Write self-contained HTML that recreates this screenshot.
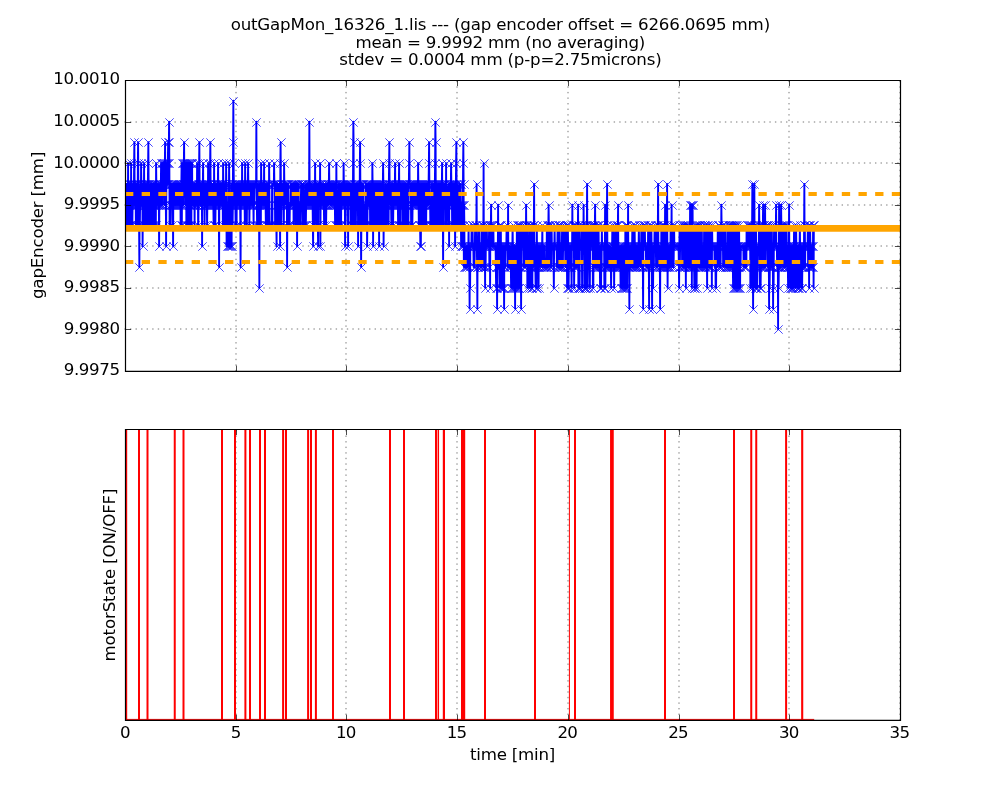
<!DOCTYPE html><html><head><meta charset="utf-8"><title>outGapMon_16326_1</title>
<style>html,body{margin:0;padding:0;background:#fff}svg{display:block}text{font-family:'DejaVu Sans','Liberation Sans',sans-serif;font-size:16.67px;fill:#000}</style></head><body>
<svg width="1000" height="800" viewBox="0 0 1000 800">
<defs><clipPath id="c1"><rect x="125" y="80" width="775.5" height="291.5"/></clipPath><clipPath id="c2"><rect x="125" y="429" width="775.5" height="291.5"/></clipPath></defs>
<rect width="1000" height="800" fill="#fff"/>
<text x="500.4" y="29.5" text-anchor="middle" textLength="539.5">outGapMon_16326_1.lis --- (gap encoder offset = 6266.0695 mm)</text>
<text x="500.4" y="47.7" text-anchor="middle" textLength="289.8">mean = 9.9992 mm (no averaging)</text>
<text x="500.4" y="65.0" text-anchor="middle" textLength="322.5">stdev = 0.0004 mm (p-p=2.75microns)</text>
<path d="M236.00 371.3V80.0M346.00 371.3V80.0M457.00 371.3V80.0M568.00 371.3V80.0M679.00 371.3V80.0M789.00 371.3V80.0M900.00 371.3V80.0M124.4 122.00H900M124.4 163.00H900M124.4 205.00H900M124.4 246.00H900M124.4 288.00H900M124.4 329.00H900" stroke="#000" stroke-opacity="0.78" stroke-width="0.69" stroke-dasharray="1.39 4.17" fill="none"/>
<path d="M236.00 720.5V429.1M346.00 720.5V429.1M457.00 720.5V429.1M568.00 720.5V429.1M679.00 720.5V429.1M789.00 720.5V429.1M900.00 720.5V429.1" stroke="#000" stroke-opacity="0.78" stroke-width="0.69" stroke-dasharray="1.39 4.17" fill="none"/>
<g clip-path="url(#c1)">
<polyline points="125.60,204.7 125.85,183.9 126.10,204.7 126.35,225.4 126.60,183.9 126.85,204.7 127.10,225.4 127.35,204.7 127.60,204.7 127.85,204.7 128.10,163.1 128.35,225.4 128.60,225.4 128.85,183.9 129.10,204.7 129.35,204.7 129.60,183.9 129.85,225.4 130.10,183.9 130.35,204.7 130.60,183.9 130.85,225.4 131.10,163.1 131.35,204.7 131.60,183.9 131.85,204.7 132.10,204.7 132.35,225.4 132.60,204.7 132.85,204.7 133.10,204.7 133.35,183.9 133.60,204.7 133.85,204.7 134.10,163.1 134.35,142.3 134.60,183.9 134.85,204.7 135.10,204.7 135.35,183.9 135.60,183.9 135.85,225.4 136.10,204.7 136.35,225.4 136.60,183.9 136.85,204.7 137.10,183.9 137.35,183.9 137.60,225.4 137.85,163.1 138.10,142.3 138.35,183.9 138.60,183.9 138.85,225.4 139.10,225.4 139.35,267.0 139.60,204.7 139.85,225.4 140.10,204.7 140.35,204.7 140.60,183.9 140.85,204.7 141.10,163.1 141.35,183.9 141.60,204.7 141.85,204.7 142.10,183.9 142.35,183.9 142.60,246.2 142.85,204.7 143.10,204.7 143.35,183.9 143.60,183.9 143.85,204.7 144.10,163.1 144.35,225.4 144.60,204.7 144.85,183.9 145.10,204.7 145.35,225.4 145.60,204.7 145.85,183.9 146.10,204.7 146.35,225.4 146.60,204.7 146.85,225.4 147.10,183.9 147.35,225.4 147.60,225.4 147.85,183.9 148.10,163.1 148.35,142.3 148.60,183.9 148.85,183.9 149.10,183.9 149.35,225.4 149.60,204.7 149.85,204.7 150.10,225.4 150.35,204.7 150.60,204.7 150.85,183.9 151.10,183.9 151.35,204.7 151.60,183.9 151.85,183.9 152.10,225.4 152.35,183.9 152.60,204.7 152.85,204.7 153.10,183.9 153.35,225.4 153.60,204.7 153.85,183.9 154.10,225.4 154.35,183.9 154.60,204.7 154.85,225.4 155.10,183.9 155.35,225.4 155.60,204.7 155.85,225.4 156.10,163.1 156.35,183.9 156.60,183.9 156.85,183.9 157.10,204.7 157.35,183.9 157.60,183.9 157.85,204.7 158.10,204.7 158.35,183.9 158.60,204.7 158.85,204.7 159.10,246.2 159.35,204.7 159.60,204.7 159.85,204.7 160.10,183.9 160.35,204.7 160.60,204.7 160.85,183.9 161.10,163.1 161.35,204.7 161.60,163.1 161.85,204.7 162.10,163.1 162.35,204.7 162.60,163.1 162.85,183.9 163.10,163.1 163.35,183.9 163.60,163.1 163.85,183.9 164.10,163.1 164.35,204.7 164.60,163.1 164.85,163.1 165.10,142.3 165.35,183.9 165.60,163.1 165.85,204.7 166.10,246.2 166.35,183.9 166.60,163.1 166.85,183.9 167.10,163.1 167.35,183.9 167.60,163.1 167.85,163.1 168.10,142.3 168.35,183.9 168.60,163.1 168.85,142.3 169.10,121.6 169.35,163.1 169.60,225.4 169.85,204.7 170.10,225.4 170.35,204.7 170.60,183.9 170.85,204.7 171.10,204.7 171.35,183.9 171.60,183.9 171.85,204.7 172.10,183.9 172.35,225.4 172.60,204.7 172.85,204.7 173.10,246.2 173.35,183.9 173.60,183.9 173.85,183.9 174.10,204.7 174.35,183.9 174.60,204.7 174.85,183.9 175.10,204.7 175.35,183.9 175.60,204.7 175.85,204.7 176.10,183.9 176.35,183.9 176.60,183.9 176.85,204.7 177.10,183.9 177.35,204.7 177.60,183.9 177.85,204.7 178.10,204.7 178.35,204.7 178.60,183.9 178.85,204.7 179.10,204.7 179.35,183.9 179.60,204.7 179.85,204.7 180.10,204.7 180.35,183.9 180.60,225.4 180.85,183.9 181.10,204.7 181.35,183.9 181.60,163.1 181.85,225.4 182.10,163.1 182.35,204.7 182.60,163.1 182.85,183.9 183.10,163.1 183.35,204.7 183.60,163.1 183.85,163.1 184.10,142.3 184.35,183.9 184.60,163.1 184.85,183.9 185.10,163.1 185.35,204.7 185.60,163.1 185.85,183.9 186.10,163.1 186.35,225.4 186.60,163.1 186.85,183.9 187.10,163.1 187.35,225.4 187.60,163.1 187.85,225.4 188.10,163.1 188.35,183.9 188.60,163.1 188.85,204.7 189.10,163.1 189.35,225.4 189.60,163.1 189.85,204.7 190.10,163.1 190.35,225.4 190.60,163.1 190.85,183.9 191.10,163.1 191.35,225.4 191.60,163.1 191.85,183.9 192.10,163.1 192.35,204.7 192.60,183.9 192.85,204.7 193.10,183.9 193.35,204.7 193.60,204.7 193.85,204.7 194.10,204.7 194.35,183.9 194.60,225.4 194.85,183.9 195.10,204.7 195.35,204.7 195.60,183.9 195.85,183.9 196.10,204.7 196.35,204.7 196.60,204.7 196.85,204.7 197.10,163.1 197.35,204.7 197.60,183.9 197.85,183.9 198.10,225.4 198.35,225.4 198.60,183.9 198.85,204.7 199.10,163.1 199.35,142.3 199.60,183.9 199.85,183.9 200.10,183.9 200.35,204.7 200.60,204.7 200.85,204.7 201.10,204.7 201.35,183.9 201.60,183.9 201.85,183.9 202.10,246.2 202.35,183.9 202.60,183.9 202.85,183.9 203.10,163.1 203.35,204.7 203.60,204.7 203.85,204.7 204.10,183.9 204.35,183.9 204.60,225.4 204.85,183.9 205.10,204.7 205.35,183.9 205.60,183.9 205.85,204.7 206.10,204.7 206.35,183.9 206.60,183.9 206.85,204.7 207.10,225.4 207.35,204.7 207.60,183.9 207.85,204.7 208.10,163.1 208.35,204.7 208.60,183.9 208.85,204.7 209.10,183.9 209.35,183.9 209.60,204.7 209.85,204.7 210.10,163.1 210.35,142.3 210.60,183.9 210.85,183.9 211.10,204.7 211.35,204.7 211.60,183.9 211.85,183.9 212.10,183.9 212.35,204.7 212.60,183.9 212.85,183.9 213.10,183.9 213.35,204.7 213.60,225.4 213.85,225.4 214.10,163.1 214.35,204.7 214.60,183.9 214.85,204.7 215.10,183.9 215.35,225.4 215.60,204.7 215.85,183.9 216.10,204.7 216.35,183.9 216.60,183.9 216.85,183.9 217.10,204.7 217.35,204.7 217.60,183.9 217.85,183.9 218.10,163.1 218.35,204.7 218.60,183.9 218.85,204.7 219.10,267.0 219.35,183.9 219.60,183.9 219.85,204.7 220.10,204.7 220.35,183.9 220.60,204.7 220.85,183.9 221.10,204.7 221.35,204.7 221.60,204.7 221.85,183.9 222.10,204.7 222.35,183.9 222.60,183.9 222.85,225.4 223.10,163.1 223.35,183.9 223.60,204.7 223.85,204.7 224.10,204.7 224.35,204.7 224.60,225.4 224.85,225.4 225.10,183.9 225.35,183.9 225.60,225.4 225.85,225.4 226.10,163.1 226.35,183.9 226.60,246.2 226.85,183.9 227.10,246.2 227.35,204.7 227.60,246.2 227.85,204.7 228.10,246.2 228.35,204.7 228.60,246.2 228.85,204.7 229.10,163.1 229.35,183.9 229.60,246.2 229.85,225.4 230.10,246.2 230.35,204.7 230.60,246.2 230.85,204.7 231.10,246.2 231.35,183.9 231.60,246.2 231.85,183.9 232.10,183.9 232.35,204.7 232.60,225.4 232.85,204.7 233.10,142.3 233.35,100.8 233.60,163.1 233.85,183.9 234.10,204.7 234.35,204.7 234.60,183.9 234.85,204.7 235.10,183.9 235.35,204.7 235.60,225.4 235.85,183.9 236.10,204.7 236.35,183.9 236.60,225.4 236.85,183.9 237.10,183.9 237.35,204.7 237.60,183.9 237.85,183.9 238.10,204.7 238.35,204.7 238.60,204.7 238.85,183.9 239.10,183.9 239.35,183.9 239.60,204.7 239.85,183.9 240.10,204.7 240.35,225.4 240.60,267.0 240.85,183.9 241.10,204.7 241.35,204.7 241.60,183.9 241.85,204.7 242.10,163.1 242.35,204.7 242.60,183.9 242.85,183.9 243.10,204.7 243.35,183.9 243.60,183.9 243.85,183.9 244.10,204.7 244.35,183.9 244.60,204.7 244.85,225.4 245.10,163.1 245.35,183.9 245.60,204.7 245.85,183.9 246.10,204.7 246.35,204.7 246.60,204.7 246.85,225.4 247.10,183.9 247.35,183.9 247.60,204.7 247.85,183.9 248.10,163.1 248.35,183.9 248.60,204.7 248.85,204.7 249.10,183.9 249.35,225.4 249.60,204.7 249.85,204.7 250.10,183.9 250.35,183.9 250.60,183.9 250.85,183.9 251.10,204.7 251.35,204.7 251.60,204.7 251.85,183.9 252.10,204.7 252.35,204.7 252.60,204.7 252.85,183.9 253.10,204.7 253.35,204.7 253.60,225.4 253.85,183.9 254.10,183.9 254.35,204.7 254.60,183.9 254.85,183.9 255.10,183.9 255.35,183.9 255.60,183.9 255.85,183.9 256.10,183.9 256.35,121.6 256.60,183.9 256.85,204.7 257.10,225.4 257.35,225.4 257.60,204.7 257.85,183.9 258.10,183.9 258.35,225.4 258.60,225.4 258.85,204.7 259.10,225.4 259.35,287.8 259.60,183.9 259.85,183.9 260.10,204.7 260.35,204.7 260.60,204.7 260.85,225.4 261.10,163.1 261.35,183.9 261.60,183.9 261.85,183.9 262.10,183.9 262.35,204.7 262.60,204.7 262.85,183.9 263.10,204.7 263.35,183.9 263.60,183.9 263.85,204.7 264.10,163.1 264.35,204.7 264.60,204.7 264.85,204.7 265.10,204.7 265.35,183.9 265.60,204.7 265.85,225.4 266.10,225.4 266.35,183.9 266.60,204.7 266.85,225.4 267.10,225.4 267.35,204.7 267.60,225.4 267.85,183.9 268.10,225.4 268.35,225.4 268.60,183.9 268.85,225.4 269.10,163.1 269.35,183.9 269.60,225.4 269.85,225.4 270.10,225.4 270.35,225.4 270.60,225.4 270.85,225.4 271.10,225.4 271.35,225.4 271.60,225.4 271.85,225.4 272.10,183.9 272.35,225.4 272.60,183.9 272.85,183.9 273.10,183.9 273.35,183.9 273.60,183.9 273.85,183.9 274.10,163.1 274.35,183.9 274.60,183.9 274.85,183.9 275.10,225.4 275.35,183.9 275.60,204.7 275.85,204.7 276.10,204.7 276.35,225.4 276.60,246.2 276.85,183.9 277.10,183.9 277.35,204.7 277.60,183.9 277.85,204.7 278.10,225.4 278.35,204.7 278.60,183.9 278.85,183.9 279.10,183.9 279.35,204.7 279.60,225.4 279.85,204.7 280.10,246.2 280.35,163.1 280.60,142.3 280.85,183.9 281.10,183.9 281.35,225.4 281.60,183.9 281.85,204.7 282.10,183.9 282.35,183.9 282.60,204.7 282.85,183.9 283.10,183.9 283.35,183.9 283.60,204.7 283.85,225.4 284.10,163.1 284.35,183.9 284.60,183.9 284.85,183.9 285.10,183.9 285.35,183.9 285.60,183.9 285.85,204.7 286.10,183.9 286.35,183.9 286.60,204.7 286.85,183.9 287.10,267.0 287.35,204.7 287.60,225.4 287.85,183.9 288.10,204.7 288.35,183.9 288.60,225.4 288.85,225.4 289.10,225.4 289.35,204.7 289.60,225.4 289.85,204.7 290.10,204.7 290.35,204.7 290.60,204.7 290.85,183.9 291.10,183.9 291.35,204.7 291.60,183.9 291.85,204.7 292.10,204.7 292.35,204.7 292.60,183.9 292.85,183.9 293.10,183.9 293.35,183.9 293.60,225.4 293.85,204.7 294.10,204.7 294.35,183.9 294.60,204.7 294.85,183.9 295.10,183.9 295.35,183.9 295.60,225.4 295.85,204.7 296.10,204.7 296.35,183.9 296.60,183.9 296.85,204.7 297.10,246.2 297.35,183.9 297.60,183.9 297.85,183.9 298.10,183.9 298.35,204.7 298.60,183.9 298.85,204.7 299.10,225.4 299.35,204.7 299.60,225.4 299.85,204.7 300.10,204.7 300.35,204.7 300.60,225.4 300.85,204.7 301.10,183.9 301.35,183.9 301.60,204.7 301.85,183.9 302.10,183.9 302.35,183.9 302.60,204.7 302.85,225.4 303.10,183.9 303.35,225.4 303.60,225.4 303.85,225.4 304.10,204.7 304.35,225.4 304.60,225.4 304.85,225.4 305.10,183.9 305.35,204.7 305.60,204.7 305.85,225.4 306.10,204.7 306.35,204.7 306.60,183.9 306.85,204.7 307.10,183.9 307.35,183.9 307.60,204.7 307.85,204.7 308.10,204.7 308.35,183.9 308.60,204.7 308.85,204.7 309.10,183.9 309.35,121.6 309.60,183.9 309.85,204.7 310.10,183.9 310.35,183.9 310.60,183.9 310.85,204.7 311.10,204.7 311.35,204.7 311.60,183.9 311.85,183.9 312.10,204.7 312.35,204.7 312.60,204.7 312.85,225.4 313.10,246.2 313.35,204.7 313.60,204.7 313.85,183.9 314.10,204.7 314.35,204.7 314.60,225.4 314.85,204.7 315.10,163.1 315.35,204.7 315.60,183.9 315.85,183.9 316.10,183.9 316.35,183.9 316.60,225.4 316.85,183.9 317.10,183.9 317.35,183.9 317.60,204.7 317.85,225.4 318.10,246.2 318.35,183.9 318.60,183.9 318.85,204.7 319.10,183.9 319.35,183.9 319.60,183.9 319.85,204.7 320.10,163.1 320.35,246.2 320.60,204.7 320.85,183.9 321.10,183.9 321.35,183.9 321.60,204.7 321.85,204.7 322.10,204.7 322.35,204.7 322.60,183.9 322.85,204.7 323.10,183.9 323.35,183.9 323.60,204.7 323.85,204.7 324.10,225.4 324.35,204.7 324.60,183.9 324.85,204.7 325.10,183.9 325.35,183.9 325.60,204.7 325.85,204.7 326.10,225.4 326.35,204.7 326.60,183.9 326.85,204.7 327.10,183.9 327.35,204.7 327.60,183.9 327.85,204.7 328.10,204.7 328.35,183.9 328.60,183.9 328.85,183.9 329.10,163.1 329.35,183.9 329.60,204.7 329.85,204.7 330.10,183.9 330.35,183.9 330.60,183.9 330.85,204.7 331.10,183.9 331.35,204.7 331.60,204.7 331.85,183.9 332.10,183.9 332.35,183.9 332.60,183.9 332.85,183.9 333.10,183.9 333.35,204.7 333.60,204.7 333.85,204.7 334.10,204.7 334.35,183.9 334.60,204.7 334.85,204.7 335.10,225.4 335.35,183.9 335.60,183.9 335.85,204.7 336.10,225.4 336.35,163.1 336.60,204.7 336.85,183.9 337.10,225.4 337.35,225.4 337.60,225.4 337.85,225.4 338.10,204.7 338.35,225.4 338.60,225.4 338.85,183.9 339.10,225.4 339.35,204.7 339.60,204.7 339.85,183.9 340.10,225.4 340.35,225.4 340.60,204.7 340.85,204.7 341.10,225.4 341.35,183.9 341.60,204.7 341.85,183.9 342.10,204.7 342.35,204.7 342.60,183.9 342.85,183.9 343.10,204.7 343.35,204.7 343.60,163.1 343.85,183.9 344.10,183.9 344.35,204.7 344.60,183.9 344.85,204.7 345.10,246.2 345.35,204.7 345.60,225.4 345.85,204.7 346.10,183.9 346.35,204.7 346.60,183.9 346.85,183.9 347.10,183.9 347.35,183.9 347.60,183.9 347.85,183.9 348.10,246.2 348.35,183.9 348.60,204.7 348.85,183.9 349.10,183.9 349.35,183.9 349.60,183.9 349.85,204.7 350.10,183.9 350.35,183.9 350.60,225.4 350.85,204.7 351.10,183.9 351.35,183.9 351.60,204.7 351.85,204.7 352.10,225.4 352.35,225.4 352.60,225.4 352.85,204.7 353.10,163.1 353.35,121.6 353.60,142.3 353.85,225.4 354.10,183.9 354.35,183.9 354.60,204.7 354.85,183.9 355.10,183.9 355.35,225.4 355.60,183.9 355.85,225.4 356.10,204.7 356.35,204.7 356.60,183.9 356.85,204.7 357.10,183.9 357.35,183.9 357.60,204.7 357.85,183.9 358.10,246.2 358.35,183.9 358.60,204.7 358.85,204.7 359.10,204.7 359.35,183.9 359.60,225.4 359.85,163.1 360.10,142.3 360.35,183.9 360.60,225.4 360.85,183.9 361.10,267.0 361.35,225.4 361.60,225.4 361.85,204.7 362.10,183.9 362.35,225.4 362.60,183.9 362.85,183.9 363.10,183.9 363.35,225.4 363.60,204.7 363.85,225.4 364.10,204.7 364.35,225.4 364.60,225.4 364.85,225.4 365.10,204.7 365.35,225.4 365.60,183.9 365.85,183.9 366.10,183.9 366.35,225.4 366.60,183.9 366.85,204.7 367.10,246.2 367.35,225.4 367.60,204.7 367.85,204.7 368.10,183.9 368.35,183.9 368.60,204.7 368.85,183.9 369.10,183.9 369.35,204.7 369.60,204.7 369.85,183.9 370.10,225.4 370.35,183.9 370.60,225.4 370.85,225.4 371.10,183.9 371.35,225.4 371.60,183.9 371.85,225.4 372.10,225.4 372.35,163.1 372.60,183.9 372.85,183.9 373.10,246.2 373.35,183.9 373.60,204.7 373.85,183.9 374.10,225.4 374.35,183.9 374.60,225.4 374.85,225.4 375.10,183.9 375.35,225.4 375.60,225.4 375.85,183.9 376.10,183.9 376.35,204.7 376.60,225.4 376.85,183.9 377.10,225.4 377.35,183.9 377.60,204.7 377.85,183.9 378.10,204.7 378.35,204.7 378.60,183.9 378.85,183.9 379.10,246.2 379.35,183.9 379.60,183.9 379.85,204.7 380.10,183.9 380.35,204.7 380.60,204.7 380.85,183.9 381.10,225.4 381.35,225.4 381.60,183.9 381.85,204.7 382.10,183.9 382.35,183.9 382.60,225.4 382.85,183.9 383.10,163.1 383.35,183.9 383.60,246.2 383.85,183.9 384.10,225.4 384.35,225.4 384.60,204.7 384.85,225.4 385.10,204.7 385.35,204.7 385.60,204.7 385.85,183.9 386.10,183.9 386.35,204.7 386.60,225.4 386.85,204.7 387.10,204.7 387.35,204.7 387.60,204.7 387.85,183.9 388.10,204.7 388.35,204.7 388.60,225.4 388.85,183.9 389.10,163.1 389.35,142.3 389.60,183.9 389.85,204.7 390.10,183.9 390.35,204.7 390.60,204.7 390.85,204.7 391.10,204.7 391.35,225.4 391.60,183.9 391.85,183.9 392.10,204.7 392.35,204.7 392.60,183.9 392.85,204.7 393.10,225.4 393.35,204.7 393.60,183.9 393.85,204.7 394.10,183.9 394.35,183.9 394.60,204.7 394.85,183.9 395.10,163.1 395.35,204.7 395.60,183.9 395.85,204.7 396.10,183.9 396.35,183.9 396.60,183.9 396.85,204.7 397.10,204.7 397.35,183.9 397.60,183.9 397.85,204.7 398.10,225.4 398.35,225.4 398.60,225.4 398.85,183.9 399.10,163.1 399.35,204.7 399.60,204.7 399.85,204.7 400.10,225.4 400.35,183.9 400.60,183.9 400.85,204.7 401.10,204.7 401.35,204.7 401.60,204.7 401.85,204.7 402.10,183.9 402.35,225.4 402.60,204.7 402.85,225.4 403.10,183.9 403.35,204.7 403.60,225.4 403.85,183.9 404.10,204.7 404.35,183.9 404.60,183.9 404.85,225.4 405.10,225.4 405.35,204.7 405.60,183.9 405.85,183.9 406.10,225.4 406.35,204.7 406.60,204.7 406.85,204.7 407.10,183.9 407.35,183.9 407.60,225.4 407.85,225.4 408.10,225.4 408.35,225.4 408.60,204.7 408.85,183.9 409.10,163.1 409.35,142.3 409.60,183.9 409.85,183.9 410.10,183.9 410.35,183.9 410.60,183.9 410.85,183.9 411.10,225.4 411.35,225.4 411.60,183.9 411.85,183.9 412.10,204.7 412.35,225.4 412.60,204.7 412.85,183.9 413.10,204.7 413.35,183.9 413.60,204.7 413.85,183.9 414.10,204.7 414.35,183.9 414.60,204.7 414.85,183.9 415.10,204.7 415.35,183.9 415.60,204.7 415.85,183.9 416.10,204.7 416.35,204.7 416.60,183.9 416.85,204.7 417.10,183.9 417.35,204.7 417.60,183.9 417.85,204.7 418.10,163.1 418.35,183.9 418.60,204.7 418.85,225.4 419.10,183.9 419.35,204.7 419.60,204.7 419.85,183.9 420.10,225.4 420.35,246.2 420.60,225.4 420.85,246.2 421.10,204.7 421.35,183.9 421.60,225.4 421.85,183.9 422.10,204.7 422.35,183.9 422.60,204.7 422.85,225.4 423.10,204.7 423.35,183.9 423.60,204.7 423.85,183.9 424.10,183.9 424.35,225.4 424.60,183.9 424.85,183.9 425.10,225.4 425.35,204.7 425.60,204.7 425.85,183.9 426.10,225.4 426.35,204.7 426.60,183.9 426.85,204.7 427.10,204.7 427.35,183.9 427.60,183.9 427.85,204.7 428.10,183.9 428.35,204.7 428.60,183.9 428.85,163.1 429.10,142.3 429.35,183.9 429.60,183.9 429.85,204.7 430.10,204.7 430.35,225.4 430.60,204.7 430.85,204.7 431.10,225.4 431.35,204.7 431.60,204.7 431.85,183.9 432.10,204.7 432.35,225.4 432.60,225.4 432.85,183.9 433.10,183.9 433.35,183.9 433.60,183.9 433.85,225.4 434.10,225.4 434.35,225.4 434.60,225.4 434.85,183.9 435.10,163.1 435.35,121.6 435.60,142.3 435.85,225.4 436.10,225.4 436.35,183.9 436.60,225.4 436.85,183.9 437.10,204.7 437.35,204.7 437.60,204.7 437.85,225.4 438.10,225.4 438.35,183.9 438.60,225.4 438.85,183.9 439.10,183.9 439.35,225.4 439.60,204.7 439.85,183.9 440.10,204.7 440.35,204.7 440.60,183.9 440.85,225.4 441.10,204.7 441.35,183.9 441.60,183.9 441.85,183.9 442.10,163.1 442.35,225.4 442.60,183.9 442.85,204.7 443.10,267.0 443.35,204.7 443.60,204.7 443.85,204.7 444.10,204.7 444.35,183.9 444.60,183.9 444.85,204.7 445.10,183.9 445.35,225.4 445.60,204.7 445.85,225.4 446.10,163.1 446.35,225.4 446.60,183.9 446.85,183.9 447.10,204.7 447.35,204.7 447.60,204.7 447.85,204.7 448.10,204.7 448.35,225.4 448.60,225.4 448.85,183.9 449.10,246.2 449.35,183.9 449.60,183.9 449.85,204.7 450.10,183.9 450.35,183.9 450.60,204.7 450.85,183.9 451.10,163.1 451.35,183.9 451.60,183.9 451.85,183.9 452.10,225.4 452.35,225.4 452.60,225.4 452.85,204.7 453.10,183.9 453.35,204.7 453.60,225.4 453.85,225.4 454.10,183.9 454.35,225.4 454.60,183.9 454.85,204.7 455.10,246.2 455.35,204.7 455.60,183.9 455.85,183.9 456.10,163.1 456.35,142.3 456.60,183.9 456.85,204.7 457.10,225.4 457.35,183.9 457.60,204.7 457.85,204.7 458.10,225.4 458.35,225.4 458.60,204.7 458.85,204.7 459.10,204.7 459.35,183.9 459.60,225.4 459.85,204.7 460.10,204.7 460.35,183.9 460.60,183.9 460.85,204.7 461.10,246.2 461.35,204.7 461.60,204.7 461.85,204.7 462.10,225.4 462.35,246.2 462.60,246.2 462.85,204.7 463.10,163.1 463.35,142.3 463.60,183.9 463.85,267.0 464.10,204.7 464.35,225.4 464.60,267.0 464.85,246.2 465.10,246.2 465.35,267.0 465.60,267.0 465.85,267.0 466.10,246.2 466.35,246.2 466.60,267.0 466.85,246.2 467.10,246.2 467.35,267.0 467.60,246.2 467.85,246.2 468.10,246.2 468.35,246.2 468.60,225.4 468.85,267.0 469.10,267.0 469.35,267.0 469.60,308.6 469.85,246.2 470.10,287.8 470.35,246.2 470.60,246.2 470.85,246.2 471.10,246.2 471.35,246.2 471.60,225.4 471.85,246.2 472.10,246.2 472.35,246.2 472.60,225.4 472.85,246.2 473.10,246.2 473.35,246.2 473.60,267.0 473.85,246.2 474.10,246.2 474.35,246.2 474.60,267.0 474.85,246.2 475.10,225.4 475.35,246.2 475.60,246.2 475.85,225.4 476.10,225.4 476.35,225.4 476.60,183.9 476.85,246.2 477.10,267.0 477.35,308.6 477.60,246.2 477.85,246.2 478.10,267.0 478.35,246.2 478.60,246.2 478.85,225.4 479.10,225.4 479.35,246.2 479.60,246.2 479.85,246.2 480.10,267.0 480.35,267.0 480.60,267.0 480.85,246.2 481.10,267.0 481.35,267.0 481.60,225.4 481.85,225.4 482.10,246.2 482.35,225.4 482.60,246.2 482.85,225.4 483.10,267.0 483.35,225.4 483.60,163.1 483.85,246.2 484.10,246.2 484.35,267.0 484.60,267.0 484.85,246.2 485.10,287.8 485.35,225.4 485.60,267.0 485.85,246.2 486.10,246.2 486.35,246.2 486.60,246.2 486.85,225.4 487.10,246.2 487.35,246.2 487.60,246.2 487.85,246.2 488.10,246.2 488.35,246.2 488.60,246.2 488.85,246.2 489.10,225.4 489.35,267.0 489.60,225.4 489.85,225.4 490.10,287.8 490.35,225.4 490.60,225.4 490.85,225.4 491.10,204.7 491.35,246.2 491.60,225.4 491.85,246.2 492.10,246.2 492.35,225.4 492.60,225.4 492.85,225.4 493.10,246.2 493.35,225.4 493.60,246.2 493.85,246.2 494.10,246.2 494.35,246.2 494.60,246.2 494.85,246.2 495.10,246.2 495.35,246.2 495.60,246.2 495.85,267.0 496.10,287.8 496.35,246.2 496.60,287.8 496.85,267.0 497.10,308.6 497.35,246.2 497.60,267.0 497.85,246.2 498.10,204.7 498.35,246.2 498.60,267.0 498.85,246.2 499.10,225.4 499.35,267.0 499.60,287.8 499.85,225.4 500.10,246.2 500.35,246.2 500.60,287.8 500.85,225.4 501.10,287.8 501.35,246.2 501.60,287.8 501.85,246.2 502.10,287.8 502.35,246.2 502.60,287.8 502.85,246.2 503.10,246.2 503.35,246.2 503.60,287.8 503.85,267.0 504.10,308.6 504.35,246.2 504.60,246.2 504.85,246.2 505.10,267.0 505.35,246.2 505.60,246.2 505.85,246.2 506.10,246.2 506.35,246.2 506.60,225.4 506.85,246.2 507.10,246.2 507.35,246.2 507.60,267.0 507.85,246.2 508.10,204.7 508.35,267.0 508.60,267.0 508.85,246.2 509.10,267.0 509.35,246.2 509.60,267.0 509.85,246.2 510.10,267.0 510.35,246.2 510.60,267.0 510.85,267.0 511.10,287.8 511.35,267.0 511.60,246.2 511.85,287.8 512.10,246.2 512.35,246.2 512.60,225.4 512.85,246.2 513.10,287.8 513.35,287.8 513.60,287.8 513.85,287.8 514.10,267.0 514.35,246.2 514.60,287.8 514.85,267.0 515.10,308.6 515.35,246.2 515.60,287.8 515.85,287.8 516.10,246.2 516.35,287.8 516.60,287.8 516.85,225.4 517.10,287.8 517.35,287.8 517.60,225.4 517.85,287.8 518.10,267.0 518.35,287.8 518.60,267.0 518.85,267.0 519.10,287.8 519.35,225.4 519.60,267.0 519.85,225.4 520.10,267.0 520.35,225.4 520.60,267.0 520.85,267.0 521.10,308.6 521.35,246.2 521.60,246.2 521.85,225.4 522.10,225.4 522.35,225.4 522.60,246.2 522.85,246.2 523.10,246.2 523.35,246.2 523.60,267.0 523.85,225.4 524.10,246.2 524.35,246.2 524.60,267.0 524.85,246.2 525.10,267.0 525.35,267.0 525.60,225.4 525.85,246.2 526.10,204.7 526.35,246.2 526.60,246.2 526.85,225.4 527.10,225.4 527.35,287.8 527.60,246.2 527.85,246.2 528.10,267.0 528.35,246.2 528.60,246.2 528.85,287.8 529.10,225.4 529.35,287.8 529.60,267.0 529.85,225.4 530.10,246.2 530.35,267.0 530.60,246.2 530.85,287.8 531.10,267.0 531.35,225.4 531.60,267.0 531.85,267.0 532.10,267.0 532.35,287.8 532.60,225.4 532.85,267.0 533.10,246.2 533.35,246.2 533.60,246.2 533.85,225.4 534.10,183.9 534.35,246.2 534.60,267.0 534.85,246.2 535.10,267.0 535.35,267.0 535.60,287.8 535.85,246.2 536.10,267.0 536.35,267.0 536.60,287.8 536.85,225.4 537.10,267.0 537.35,246.2 537.60,246.2 537.85,267.0 538.10,267.0 538.35,246.2 538.60,287.8 538.85,246.2 539.10,267.0 539.35,246.2 539.60,246.2 539.85,246.2 540.10,246.2 540.35,246.2 540.60,246.2 540.85,267.0 541.10,246.2 541.35,246.2 541.60,246.2 541.85,246.2 542.10,246.2 542.35,225.4 542.60,267.0 542.85,246.2 543.10,267.0 543.35,267.0 543.60,267.0 543.85,267.0 544.10,246.2 544.35,267.0 544.60,246.2 544.85,267.0 545.10,267.0 545.35,267.0 545.60,267.0 545.85,267.0 546.10,267.0 546.35,267.0 546.60,267.0 546.85,225.4 547.10,267.0 547.35,225.4 547.60,267.0 547.85,267.0 548.10,267.0 548.35,225.4 548.60,204.7 548.85,225.4 549.10,246.2 549.35,225.4 549.60,246.2 549.85,267.0 550.10,246.2 550.35,225.4 550.60,246.2 550.85,246.2 551.10,267.0 551.35,267.0 551.60,225.4 551.85,246.2 552.10,246.2 552.35,246.2 552.60,246.2 552.85,246.2 553.10,246.2 553.35,246.2 553.60,267.0 553.85,287.8 554.10,246.2 554.35,246.2 554.60,225.4 554.85,246.2 555.10,246.2 555.35,246.2 555.60,246.2 555.85,246.2 556.10,246.2 556.35,246.2 556.60,246.2 556.85,267.0 557.10,267.0 557.35,246.2 557.60,225.4 557.85,246.2 558.10,267.0 558.35,246.2 558.60,225.4 558.85,267.0 559.10,267.0 559.35,267.0 559.60,225.4 559.85,246.2 560.10,246.2 560.35,267.0 560.60,246.2 560.85,246.2 561.10,267.0 561.35,246.2 561.60,267.0 561.85,246.2 562.10,225.4 562.35,246.2 562.60,267.0 562.85,267.0 563.10,246.2 563.35,246.2 563.60,246.2 563.85,225.4 564.10,246.2 564.35,246.2 564.60,246.2 564.85,246.2 565.10,246.2 565.35,267.0 565.60,246.2 565.85,225.4 566.10,246.2 566.35,246.2 566.60,267.0 566.85,246.2 567.10,287.8 567.35,225.4 567.60,267.0 567.85,225.4 568.10,246.2 568.35,287.8 568.60,287.8 568.85,267.0 569.10,246.2 569.35,246.2 569.60,246.2 569.85,267.0 570.10,246.2 570.35,246.2 570.60,267.0 570.85,246.2 571.10,267.0 571.35,267.0 571.60,287.8 571.85,246.2 572.10,246.2 572.35,204.7 572.60,246.2 572.85,246.2 573.10,225.4 573.35,246.2 573.60,246.2 573.85,225.4 574.10,287.8 574.35,267.0 574.60,246.2 574.85,267.0 575.10,225.4 575.35,246.2 575.60,246.2 575.85,225.4 576.10,267.0 576.35,246.2 576.60,267.0 576.85,267.0 577.10,246.2 577.35,267.0 577.60,246.2 577.85,225.4 578.10,204.7 578.35,287.8 578.60,287.8 578.85,246.2 579.10,225.4 579.35,246.2 579.60,287.8 579.85,246.2 580.10,246.2 580.35,246.2 580.60,246.2 580.85,246.2 581.10,246.2 581.35,225.4 581.60,246.2 581.85,246.2 582.10,287.8 582.35,225.4 582.60,246.2 582.85,246.2 583.10,246.2 583.35,246.2 583.60,204.7 583.85,246.2 584.10,246.2 584.35,287.8 584.60,246.2 584.85,225.4 585.10,287.8 585.35,246.2 585.60,246.2 585.85,267.0 586.10,287.8 586.35,225.4 586.60,246.2 586.85,225.4 587.10,183.9 587.35,246.2 587.60,287.8 587.85,246.2 588.10,246.2 588.35,246.2 588.60,246.2 588.85,246.2 589.10,225.4 589.35,225.4 589.60,267.0 589.85,287.8 590.10,246.2 590.35,246.2 590.60,246.2 590.85,246.2 591.10,246.2 591.35,225.4 591.60,246.2 591.85,246.2 592.10,225.4 592.35,225.4 592.60,246.2 592.85,287.8 593.10,225.4 593.35,287.8 593.60,225.4 593.85,267.0 594.10,246.2 594.35,246.2 594.60,267.0 594.85,225.4 595.10,204.7 595.35,246.2 595.60,267.0 595.85,246.2 596.10,246.2 596.35,267.0 596.60,267.0 596.85,225.4 597.10,225.4 597.35,267.0 597.60,267.0 597.85,267.0 598.10,225.4 598.35,246.2 598.60,225.4 598.85,267.0 599.10,246.2 599.35,246.2 599.60,246.2 599.85,267.0 600.10,287.8 600.35,267.0 600.60,267.0 600.85,246.2 601.10,287.8 601.35,246.2 601.60,267.0 601.85,225.4 602.10,246.2 602.35,246.2 602.60,246.2 602.85,246.2 603.10,246.2 603.35,246.2 603.60,246.2 603.85,246.2 604.10,246.2 604.35,287.8 604.60,267.0 604.85,246.2 605.10,204.7 605.35,287.8 605.60,246.2 605.85,246.2 606.10,267.0 606.35,267.0 606.60,267.0 606.85,225.4 607.10,183.9 607.35,246.2 607.60,267.0 607.85,246.2 608.10,267.0 608.35,267.0 608.60,246.2 608.85,267.0 609.10,246.2 609.35,267.0 609.60,246.2 609.85,267.0 610.10,246.2 610.35,267.0 610.60,267.0 610.85,267.0 611.10,287.8 611.35,267.0 611.60,267.0 611.85,267.0 612.10,246.2 612.35,225.4 612.60,267.0 612.85,267.0 613.10,267.0 613.35,246.2 613.60,267.0 613.85,225.4 614.10,287.8 614.35,267.0 614.60,246.2 614.85,267.0 615.10,267.0 615.35,267.0 615.60,267.0 615.85,225.4 616.10,267.0 616.35,267.0 616.60,267.0 616.85,267.0 617.10,267.0 617.35,225.4 617.60,225.4 617.85,225.4 618.10,204.7 618.35,267.0 618.60,267.0 618.85,267.0 619.10,267.0 619.35,246.2 619.60,246.2 619.85,267.0 620.10,267.0 620.35,267.0 620.60,287.8 620.85,246.2 621.10,287.8 621.35,246.2 621.60,267.0 621.85,246.2 622.10,287.8 622.35,267.0 622.60,287.8 622.85,246.2 623.10,246.2 623.35,267.0 623.60,246.2 623.85,246.2 624.10,246.2 624.35,287.8 624.60,246.2 624.85,246.2 625.10,287.8 625.35,225.4 625.60,246.2 625.85,246.2 626.10,225.4 626.35,287.8 626.60,225.4 626.85,246.2 627.10,287.8 627.35,246.2 627.60,246.2 627.85,246.2 628.10,204.7 628.35,267.0 628.60,267.0 628.85,246.2 629.10,267.0 629.35,308.6 629.60,246.2 629.85,246.2 630.10,246.2 630.35,246.2 630.60,246.2 630.85,246.2 631.10,267.0 631.35,246.2 631.60,246.2 631.85,267.0 632.10,246.2 632.35,225.4 632.60,267.0 632.85,246.2 633.10,267.0 633.35,267.0 633.60,225.4 633.85,246.2 634.10,267.0 634.35,246.2 634.60,225.4 634.85,246.2 635.10,246.2 635.35,267.0 635.60,246.2 635.85,246.2 636.10,267.0 636.35,246.2 636.60,267.0 636.85,246.2 637.10,267.0 637.35,246.2 637.60,246.2 637.85,267.0 638.10,246.2 638.35,267.0 638.60,246.2 638.85,225.4 639.10,246.2 639.35,246.2 639.60,246.2 639.85,246.2 640.10,246.2 640.35,267.0 640.60,246.2 640.85,246.2 641.10,246.2 641.35,225.4 641.60,246.2 641.85,267.0 642.10,246.2 642.35,246.2 642.60,225.4 642.85,267.0 643.10,308.6 643.35,246.2 643.60,225.4 643.85,246.2 644.10,225.4 644.35,246.2 644.60,246.2 644.85,225.4 645.10,246.2 645.35,246.2 645.60,246.2 645.85,246.2 646.10,267.0 646.35,246.2 646.60,246.2 646.85,267.0 647.10,267.0 647.35,246.2 647.60,246.2 647.85,267.0 648.10,225.4 648.35,267.0 648.60,246.2 648.85,267.0 649.10,308.6 649.35,246.2 649.60,225.4 649.85,267.0 650.10,246.2 650.35,246.2 650.60,225.4 650.85,225.4 651.10,225.4 651.35,225.4 651.60,246.2 651.85,267.0 652.10,308.6 652.35,246.2 652.60,246.2 652.85,246.2 653.10,287.8 653.35,246.2 653.60,246.2 653.85,267.0 654.10,246.2 654.35,246.2 654.60,225.4 654.85,246.2 655.10,225.4 655.35,246.2 655.60,246.2 655.85,246.2 656.10,267.0 656.35,267.0 656.60,267.0 656.85,225.4 657.10,246.2 657.35,267.0 657.60,246.2 657.85,225.4 658.10,183.9 658.35,246.2 658.60,246.2 658.85,246.2 659.10,246.2 659.35,267.0 659.60,246.2 659.85,267.0 660.10,308.6 660.35,246.2 660.60,267.0 660.85,267.0 661.10,267.0 661.35,225.4 661.60,225.4 661.85,225.4 662.10,267.0 662.35,267.0 662.60,246.2 662.85,267.0 663.10,225.4 663.35,267.0 663.60,246.2 663.85,225.4 664.10,246.2 664.35,267.0 664.60,267.0 664.85,246.2 665.10,204.7 665.35,267.0 665.60,246.2 665.85,246.2 666.10,267.0 666.35,246.2 666.60,267.0 666.85,225.4 667.10,183.9 667.35,246.2 667.60,287.8 667.85,246.2 668.10,246.2 668.35,267.0 668.60,246.2 668.85,267.0 669.10,267.0 669.35,246.2 669.60,267.0 669.85,246.2 670.10,246.2 670.35,267.0 670.60,225.4 670.85,246.2 671.10,246.2 671.35,246.2 671.60,204.7 671.85,267.0 672.10,267.0 672.35,267.0 672.60,225.4 672.85,246.2 673.10,246.2 673.35,246.2 673.60,267.0 673.85,246.2 674.10,225.4 674.35,246.2 674.60,246.2 674.85,246.2 675.10,246.2 675.35,246.2 675.60,246.2 675.85,246.2 676.10,246.2 676.35,246.2 676.60,246.2 676.85,246.2 677.10,246.2 677.35,246.2 677.60,246.2 677.85,246.2 678.10,246.2 678.35,246.2 678.60,246.2 678.85,267.0 679.10,287.8 679.35,246.2 679.60,225.4 679.85,267.0 680.10,246.2 680.35,225.4 680.60,246.2 680.85,246.2 681.10,246.2 681.35,246.2 681.60,225.4 681.85,225.4 682.10,267.0 682.35,267.0 682.60,225.4 682.85,225.4 683.10,225.4 683.35,267.0 683.60,267.0 683.85,225.4 684.10,225.4 684.35,267.0 684.60,225.4 684.85,225.4 685.10,267.0 685.35,267.0 685.60,225.4 685.85,287.8 686.10,225.4 686.35,225.4 686.60,225.4 686.85,225.4 687.10,267.0 687.35,225.4 687.60,225.4 687.85,267.0 688.10,225.4 688.35,267.0 688.60,267.0 688.85,267.0 689.10,267.0 689.35,267.0 689.60,267.0 689.85,246.2 690.10,204.7 690.35,267.0 690.60,204.7 690.85,267.0 691.10,204.7 691.35,246.2 691.60,204.7 691.85,287.8 692.10,204.7 692.35,267.0 692.60,204.7 692.85,267.0 693.10,267.0 693.35,246.2 693.60,246.2 693.85,246.2 694.10,267.0 694.35,287.8 694.60,225.4 694.85,246.2 695.10,267.0 695.35,287.8 695.60,225.4 695.85,225.4 696.10,246.2 696.35,246.2 696.60,287.8 696.85,246.2 697.10,246.2 697.35,225.4 697.60,267.0 697.85,246.2 698.10,246.2 698.35,225.4 698.60,246.2 698.85,225.4 699.10,225.4 699.35,267.0 699.60,246.2 699.85,267.0 700.10,225.4 700.35,267.0 700.60,246.2 700.85,246.2 701.10,246.2 701.35,267.0 701.60,267.0 701.85,225.4 702.10,267.0 702.35,246.2 702.60,246.2 702.85,267.0 703.10,267.0 703.35,246.2 703.60,267.0 703.85,267.0 704.10,225.4 704.35,267.0 704.60,225.4 704.85,267.0 705.10,267.0 705.35,267.0 705.60,267.0 705.85,267.0 706.10,267.0 706.35,267.0 706.60,225.4 706.85,246.2 707.10,287.8 707.35,246.2 707.60,267.0 707.85,225.4 708.10,267.0 708.35,225.4 708.60,246.2 708.85,246.2 709.10,246.2 709.35,267.0 709.60,246.2 709.85,267.0 710.10,225.4 710.35,246.2 710.60,246.2 710.85,267.0 711.10,246.2 711.35,267.0 711.60,246.2 711.85,287.8 712.10,225.4 712.35,246.2 712.60,246.2 712.85,246.2 713.10,246.2 713.35,246.2 713.60,246.2 713.85,246.2 714.10,246.2 714.35,246.2 714.60,267.0 714.85,267.0 715.10,246.2 715.35,246.2 715.60,287.8 715.85,246.2 716.10,287.8 716.35,246.2 716.60,246.2 716.85,246.2 717.10,267.0 717.35,246.2 717.60,246.2 717.85,225.4 718.10,225.4 718.35,246.2 718.60,246.2 718.85,246.2 719.10,267.0 719.35,225.4 719.60,246.2 719.85,246.2 720.10,246.2 720.35,267.0 720.60,267.0 720.85,246.2 721.10,246.2 721.35,204.7 721.60,225.4 721.85,225.4 722.10,225.4 722.35,225.4 722.60,246.2 722.85,225.4 723.10,267.0 723.35,225.4 723.60,246.2 723.85,246.2 724.10,246.2 724.35,246.2 724.60,246.2 724.85,267.0 725.10,246.2 725.35,225.4 725.60,267.0 725.85,246.2 726.10,246.2 726.35,246.2 726.60,246.2 726.85,246.2 727.10,246.2 727.35,267.0 727.60,225.4 727.85,267.0 728.10,267.0 728.35,267.0 728.60,246.2 728.85,267.0 729.10,225.4 729.35,246.2 729.60,225.4 729.85,267.0 730.10,246.2 730.35,246.2 730.60,225.4 730.85,267.0 731.10,246.2 731.35,267.0 731.60,246.2 731.85,267.0 732.10,225.4 732.35,267.0 732.60,246.2 732.85,267.0 733.10,287.8 733.35,225.4 733.60,287.8 733.85,246.2 734.10,287.8 734.35,225.4 734.60,287.8 734.85,267.0 735.10,287.8 735.35,225.4 735.60,287.8 735.85,225.4 736.10,246.2 736.35,267.0 736.60,287.8 736.85,267.0 737.10,225.4 737.35,246.2 737.60,287.8 737.85,267.0 738.10,287.8 738.35,246.2 738.60,287.8 738.85,267.0 739.10,225.4 739.35,267.0 739.60,287.8 739.85,246.2 740.10,287.8 740.35,246.2 740.60,267.0 740.85,246.2 741.10,246.2 741.35,246.2 741.60,246.2 741.85,246.2 742.10,246.2 742.35,246.2 742.60,246.2 742.85,246.2 743.10,246.2 743.35,246.2 743.60,267.0 743.85,267.0 744.10,246.2 744.35,246.2 744.60,246.2 744.85,267.0 745.10,246.2 745.35,246.2 745.60,267.0 745.85,246.2 746.10,246.2 746.35,267.0 746.60,225.4 746.85,246.2 747.10,246.2 747.35,225.4 747.60,246.2 747.85,246.2 748.10,246.2 748.35,225.4 748.60,246.2 748.85,246.2 749.10,246.2 749.35,225.4 749.60,225.4 749.85,246.2 750.10,225.4 750.35,287.8 750.60,246.2 750.85,246.2 751.10,246.2 751.35,225.4 751.60,287.8 751.85,225.4 752.10,225.4 752.35,183.9 752.60,246.2 752.85,267.0 753.10,308.6 753.35,246.2 753.60,225.4 753.85,225.4 754.10,225.4 754.35,183.9 754.60,246.2 754.85,225.4 755.10,287.8 755.35,246.2 755.60,267.0 755.85,225.4 756.10,225.4 756.35,287.8 756.60,246.2 756.85,246.2 757.10,287.8 757.35,267.0 757.60,267.0 757.85,246.2 758.10,246.2 758.35,246.2 758.60,246.2 758.85,246.2 759.10,204.7 759.35,225.4 759.60,246.2 759.85,287.8 760.10,246.2 760.35,267.0 760.60,287.8 760.85,267.0 761.10,267.0 761.35,225.4 761.60,267.0 761.85,225.4 762.10,267.0 762.35,225.4 762.60,225.4 762.85,225.4 763.10,204.7 763.35,267.0 763.60,225.4 763.85,225.4 764.10,267.0 764.35,225.4 764.60,246.2 764.85,246.2 765.10,204.7 765.35,267.0 765.60,225.4 765.85,225.4 766.10,225.4 766.35,225.4 766.60,246.2 766.85,225.4 767.10,225.4 767.35,246.2 767.60,267.0 767.85,267.0 768.10,267.0 768.35,225.4 768.60,246.2 768.85,267.0 769.10,308.6 769.35,246.2 769.60,287.8 769.85,267.0 770.10,246.2 770.35,225.4 770.60,246.2 770.85,267.0 771.10,246.2 771.35,246.2 771.60,225.4 771.85,225.4 772.10,267.0 772.35,267.0 772.60,267.0 772.85,267.0 773.10,308.6 773.35,246.2 773.60,287.8 773.85,246.2 774.10,225.4 774.35,246.2 774.60,246.2 774.85,246.2 775.10,246.2 775.35,246.2 775.60,246.2 775.85,225.4 776.10,204.7 776.35,246.2 776.60,246.2 776.85,246.2 777.10,267.0 777.35,246.2 777.60,267.0 777.85,267.0 778.10,329.3 778.35,246.2 778.60,287.8 778.85,267.0 779.10,204.7 779.35,267.0 779.60,246.2 779.85,246.2 780.10,267.0 780.35,246.2 780.60,267.0 780.85,267.0 781.10,204.7 781.35,225.4 781.60,246.2 781.85,246.2 782.10,246.2 782.35,225.4 782.60,246.2 782.85,267.0 783.10,225.4 783.35,267.0 783.60,225.4 783.85,225.4 784.10,225.4 784.35,267.0 784.60,225.4 784.85,267.0 785.10,225.4 785.35,267.0 785.60,246.2 785.85,225.4 786.10,246.2 786.35,225.4 786.60,225.4 786.85,267.0 787.10,246.2 787.35,267.0 787.60,246.2 787.85,267.0 788.10,287.8 788.35,267.0 788.60,267.0 788.85,246.2 789.10,204.7 789.35,267.0 789.60,267.0 789.85,246.2 790.10,287.8 790.35,246.2 790.60,246.2 790.85,267.0 791.10,287.8 791.35,246.2 791.60,287.8 791.85,267.0 792.10,246.2 792.35,246.2 792.60,287.8 792.85,246.2 793.10,287.8 793.35,267.0 793.60,246.2 793.85,246.2 794.10,225.4 794.35,267.0 794.60,287.8 794.85,267.0 795.10,287.8 795.35,267.0 795.60,267.0 795.85,225.4 796.10,225.4 796.35,246.2 796.60,287.8 796.85,267.0 797.10,246.2 797.35,246.2 797.60,287.8 797.85,246.2 798.10,267.0 798.35,246.2 798.60,246.2 798.85,246.2 799.10,287.8 799.35,267.0 799.60,246.2 799.85,225.4 800.10,246.2 800.35,246.2 800.60,267.0 800.85,246.2 801.10,287.8 801.35,267.0 801.60,246.2 801.85,267.0 802.10,287.8 802.35,267.0 802.60,246.2 802.85,267.0 803.10,267.0 803.35,246.2 803.60,246.2 803.85,267.0 804.10,225.4 804.35,183.9 804.60,246.2 804.85,225.4 805.10,267.0 805.35,246.2 805.60,246.2 805.85,246.2 806.10,246.2 806.35,246.2 806.60,246.2 806.85,246.2 807.10,246.2 807.35,246.2 807.60,246.2 807.85,225.4 808.10,267.0 808.35,246.2 808.60,267.0 808.85,246.2 809.10,287.8 809.35,225.4 809.60,246.2 809.85,267.0 810.10,225.4 810.35,246.2 810.60,246.2 810.85,267.0 811.10,246.2 811.35,267.0 811.60,267.0 811.85,246.2 812.10,246.2 812.35,246.2 812.60,246.2 812.85,267.0 813.10,225.4 813.35,225.4 813.60,287.8 813.85,225.4" fill="none" stroke="#00f" stroke-width="1.9" stroke-linejoin="round"/>
<path d="M122.3 180.3l8.4 8.4m0-8.4l-8.4 8.4M122.3 201.3l8.4 8.4m0-8.4l-8.4 8.4M122.3 221.3l8.4 8.4m0-8.4l-8.4 8.4M123.3 180.3l8.4 8.4m0-8.4l-8.4 8.4M123.3 201.3l8.4 8.4m0-8.4l-8.4 8.4M123.3 221.3l8.4 8.4m0-8.4l-8.4 8.4M124.3 159.3l8.4 8.4m0-8.4l-8.4 8.4M124.3 201.3l8.4 8.4m0-8.4l-8.4 8.4M124.3 221.3l8.4 8.4m0-8.4l-8.4 8.4M125.3 180.3l8.4 8.4m0-8.4l-8.4 8.4M125.3 201.3l8.4 8.4m0-8.4l-8.4 8.4M125.3 221.3l8.4 8.4m0-8.4l-8.4 8.4M126.3 180.3l8.4 8.4m0-8.4l-8.4 8.4M126.3 201.3l8.4 8.4m0-8.4l-8.4 8.4M126.3 221.3l8.4 8.4m0-8.4l-8.4 8.4M127.3 159.3l8.4 8.4m0-8.4l-8.4 8.4M127.3 180.3l8.4 8.4m0-8.4l-8.4 8.4M127.3 201.3l8.4 8.4m0-8.4l-8.4 8.4M127.3 221.3l8.4 8.4m0-8.4l-8.4 8.4M128.3 180.3l8.4 8.4m0-8.4l-8.4 8.4M128.3 201.3l8.4 8.4m0-8.4l-8.4 8.4M128.3 221.3l8.4 8.4m0-8.4l-8.4 8.4M129.3 180.3l8.4 8.4m0-8.4l-8.4 8.4M129.3 201.3l8.4 8.4m0-8.4l-8.4 8.4M130.3 138.3l8.4 8.4m0-8.4l-8.4 8.4M130.3 159.3l8.4 8.4m0-8.4l-8.4 8.4M130.3 201.3l8.4 8.4m0-8.4l-8.4 8.4M131.3 180.3l8.4 8.4m0-8.4l-8.4 8.4M131.3 201.3l8.4 8.4m0-8.4l-8.4 8.4M132.3 180.3l8.4 8.4m0-8.4l-8.4 8.4M132.3 201.3l8.4 8.4m0-8.4l-8.4 8.4M132.3 221.3l8.4 8.4m0-8.4l-8.4 8.4M133.3 180.3l8.4 8.4m0-8.4l-8.4 8.4M133.3 201.3l8.4 8.4m0-8.4l-8.4 8.4M134.3 138.3l8.4 8.4m0-8.4l-8.4 8.4M134.3 159.3l8.4 8.4m0-8.4l-8.4 8.4M134.3 180.3l8.4 8.4m0-8.4l-8.4 8.4M134.3 221.3l8.4 8.4m0-8.4l-8.4 8.4M135.3 180.3l8.4 8.4m0-8.4l-8.4 8.4M135.3 221.3l8.4 8.4m0-8.4l-8.4 8.4M135.3 263.3l8.4 8.4m0-8.4l-8.4 8.4M136.3 201.3l8.4 8.4m0-8.4l-8.4 8.4M136.3 221.3l8.4 8.4m0-8.4l-8.4 8.4M137.3 159.3l8.4 8.4m0-8.4l-8.4 8.4M137.3 180.3l8.4 8.4m0-8.4l-8.4 8.4M137.3 201.3l8.4 8.4m0-8.4l-8.4 8.4M138.3 180.3l8.4 8.4m0-8.4l-8.4 8.4M138.3 201.3l8.4 8.4m0-8.4l-8.4 8.4M139.3 180.3l8.4 8.4m0-8.4l-8.4 8.4M139.3 201.3l8.4 8.4m0-8.4l-8.4 8.4M139.3 242.3l8.4 8.4m0-8.4l-8.4 8.4M140.3 159.3l8.4 8.4m0-8.4l-8.4 8.4M140.3 180.3l8.4 8.4m0-8.4l-8.4 8.4M140.3 201.3l8.4 8.4m0-8.4l-8.4 8.4M140.3 221.3l8.4 8.4m0-8.4l-8.4 8.4M141.3 180.3l8.4 8.4m0-8.4l-8.4 8.4M141.3 201.3l8.4 8.4m0-8.4l-8.4 8.4M141.3 221.3l8.4 8.4m0-8.4l-8.4 8.4M142.3 180.3l8.4 8.4m0-8.4l-8.4 8.4M142.3 201.3l8.4 8.4m0-8.4l-8.4 8.4M142.3 221.3l8.4 8.4m0-8.4l-8.4 8.4M143.3 180.3l8.4 8.4m0-8.4l-8.4 8.4M143.3 201.3l8.4 8.4m0-8.4l-8.4 8.4M143.3 221.3l8.4 8.4m0-8.4l-8.4 8.4M144.3 138.3l8.4 8.4m0-8.4l-8.4 8.4M144.3 159.3l8.4 8.4m0-8.4l-8.4 8.4M144.3 180.3l8.4 8.4m0-8.4l-8.4 8.4M144.3 221.3l8.4 8.4m0-8.4l-8.4 8.4M145.3 180.3l8.4 8.4m0-8.4l-8.4 8.4M145.3 221.3l8.4 8.4m0-8.4l-8.4 8.4M146.3 201.3l8.4 8.4m0-8.4l-8.4 8.4M146.3 221.3l8.4 8.4m0-8.4l-8.4 8.4M147.3 180.3l8.4 8.4m0-8.4l-8.4 8.4M147.3 201.3l8.4 8.4m0-8.4l-8.4 8.4M148.3 180.3l8.4 8.4m0-8.4l-8.4 8.4M148.3 221.3l8.4 8.4m0-8.4l-8.4 8.4M149.3 180.3l8.4 8.4m0-8.4l-8.4 8.4M149.3 201.3l8.4 8.4m0-8.4l-8.4 8.4M149.3 221.3l8.4 8.4m0-8.4l-8.4 8.4M150.3 180.3l8.4 8.4m0-8.4l-8.4 8.4M150.3 201.3l8.4 8.4m0-8.4l-8.4 8.4M150.3 221.3l8.4 8.4m0-8.4l-8.4 8.4M151.3 180.3l8.4 8.4m0-8.4l-8.4 8.4M151.3 201.3l8.4 8.4m0-8.4l-8.4 8.4M151.3 221.3l8.4 8.4m0-8.4l-8.4 8.4M152.3 159.3l8.4 8.4m0-8.4l-8.4 8.4M152.3 180.3l8.4 8.4m0-8.4l-8.4 8.4M152.3 201.3l8.4 8.4m0-8.4l-8.4 8.4M152.3 221.3l8.4 8.4m0-8.4l-8.4 8.4M153.3 180.3l8.4 8.4m0-8.4l-8.4 8.4M153.3 201.3l8.4 8.4m0-8.4l-8.4 8.4M154.3 180.3l8.4 8.4m0-8.4l-8.4 8.4M154.3 201.3l8.4 8.4m0-8.4l-8.4 8.4M155.3 201.3l8.4 8.4m0-8.4l-8.4 8.4M155.3 242.3l8.4 8.4m0-8.4l-8.4 8.4M156.3 180.3l8.4 8.4m0-8.4l-8.4 8.4M156.3 201.3l8.4 8.4m0-8.4l-8.4 8.4M157.3 159.3l8.4 8.4m0-8.4l-8.4 8.4M157.3 180.3l8.4 8.4m0-8.4l-8.4 8.4M157.3 201.3l8.4 8.4m0-8.4l-8.4 8.4M158.3 159.3l8.4 8.4m0-8.4l-8.4 8.4M158.3 201.3l8.4 8.4m0-8.4l-8.4 8.4M159.3 159.3l8.4 8.4m0-8.4l-8.4 8.4M159.3 180.3l8.4 8.4m0-8.4l-8.4 8.4M160.3 159.3l8.4 8.4m0-8.4l-8.4 8.4M160.3 180.3l8.4 8.4m0-8.4l-8.4 8.4M160.3 201.3l8.4 8.4m0-8.4l-8.4 8.4M161.3 138.3l8.4 8.4m0-8.4l-8.4 8.4M161.3 159.3l8.4 8.4m0-8.4l-8.4 8.4M161.3 180.3l8.4 8.4m0-8.4l-8.4 8.4M162.3 159.3l8.4 8.4m0-8.4l-8.4 8.4M162.3 180.3l8.4 8.4m0-8.4l-8.4 8.4M162.3 201.3l8.4 8.4m0-8.4l-8.4 8.4M162.3 242.3l8.4 8.4m0-8.4l-8.4 8.4M163.3 159.3l8.4 8.4m0-8.4l-8.4 8.4M163.3 180.3l8.4 8.4m0-8.4l-8.4 8.4M164.3 138.3l8.4 8.4m0-8.4l-8.4 8.4M164.3 159.3l8.4 8.4m0-8.4l-8.4 8.4M164.3 180.3l8.4 8.4m0-8.4l-8.4 8.4M165.3 118.3l8.4 8.4m0-8.4l-8.4 8.4M165.3 138.3l8.4 8.4m0-8.4l-8.4 8.4M165.3 159.3l8.4 8.4m0-8.4l-8.4 8.4M166.3 201.3l8.4 8.4m0-8.4l-8.4 8.4M166.3 221.3l8.4 8.4m0-8.4l-8.4 8.4M167.3 180.3l8.4 8.4m0-8.4l-8.4 8.4M167.3 201.3l8.4 8.4m0-8.4l-8.4 8.4M168.3 180.3l8.4 8.4m0-8.4l-8.4 8.4M168.3 201.3l8.4 8.4m0-8.4l-8.4 8.4M168.3 221.3l8.4 8.4m0-8.4l-8.4 8.4M169.3 180.3l8.4 8.4m0-8.4l-8.4 8.4M169.3 201.3l8.4 8.4m0-8.4l-8.4 8.4M169.3 242.3l8.4 8.4m0-8.4l-8.4 8.4M170.3 180.3l8.4 8.4m0-8.4l-8.4 8.4M170.3 201.3l8.4 8.4m0-8.4l-8.4 8.4M171.3 180.3l8.4 8.4m0-8.4l-8.4 8.4M171.3 201.3l8.4 8.4m0-8.4l-8.4 8.4M172.3 180.3l8.4 8.4m0-8.4l-8.4 8.4M172.3 201.3l8.4 8.4m0-8.4l-8.4 8.4M173.3 180.3l8.4 8.4m0-8.4l-8.4 8.4M173.3 201.3l8.4 8.4m0-8.4l-8.4 8.4M174.3 180.3l8.4 8.4m0-8.4l-8.4 8.4M174.3 201.3l8.4 8.4m0-8.4l-8.4 8.4M175.3 180.3l8.4 8.4m0-8.4l-8.4 8.4M175.3 201.3l8.4 8.4m0-8.4l-8.4 8.4M176.3 180.3l8.4 8.4m0-8.4l-8.4 8.4M176.3 201.3l8.4 8.4m0-8.4l-8.4 8.4M177.3 180.3l8.4 8.4m0-8.4l-8.4 8.4M177.3 201.3l8.4 8.4m0-8.4l-8.4 8.4M177.3 221.3l8.4 8.4m0-8.4l-8.4 8.4M178.3 159.3l8.4 8.4m0-8.4l-8.4 8.4M178.3 201.3l8.4 8.4m0-8.4l-8.4 8.4M178.3 221.3l8.4 8.4m0-8.4l-8.4 8.4M179.3 159.3l8.4 8.4m0-8.4l-8.4 8.4M179.3 180.3l8.4 8.4m0-8.4l-8.4 8.4M179.3 201.3l8.4 8.4m0-8.4l-8.4 8.4M180.3 138.3l8.4 8.4m0-8.4l-8.4 8.4M180.3 159.3l8.4 8.4m0-8.4l-8.4 8.4M180.3 180.3l8.4 8.4m0-8.4l-8.4 8.4M181.3 159.3l8.4 8.4m0-8.4l-8.4 8.4M181.3 180.3l8.4 8.4m0-8.4l-8.4 8.4M181.3 201.3l8.4 8.4m0-8.4l-8.4 8.4M182.3 159.3l8.4 8.4m0-8.4l-8.4 8.4M182.3 180.3l8.4 8.4m0-8.4l-8.4 8.4M182.3 221.3l8.4 8.4m0-8.4l-8.4 8.4M183.3 159.3l8.4 8.4m0-8.4l-8.4 8.4M183.3 180.3l8.4 8.4m0-8.4l-8.4 8.4M183.3 221.3l8.4 8.4m0-8.4l-8.4 8.4M184.3 159.3l8.4 8.4m0-8.4l-8.4 8.4M184.3 180.3l8.4 8.4m0-8.4l-8.4 8.4M184.3 221.3l8.4 8.4m0-8.4l-8.4 8.4M185.3 159.3l8.4 8.4m0-8.4l-8.4 8.4M185.3 201.3l8.4 8.4m0-8.4l-8.4 8.4M185.3 221.3l8.4 8.4m0-8.4l-8.4 8.4M186.3 159.3l8.4 8.4m0-8.4l-8.4 8.4M186.3 201.3l8.4 8.4m0-8.4l-8.4 8.4M186.3 221.3l8.4 8.4m0-8.4l-8.4 8.4M187.3 159.3l8.4 8.4m0-8.4l-8.4 8.4M187.3 180.3l8.4 8.4m0-8.4l-8.4 8.4M187.3 221.3l8.4 8.4m0-8.4l-8.4 8.4M188.3 159.3l8.4 8.4m0-8.4l-8.4 8.4M188.3 180.3l8.4 8.4m0-8.4l-8.4 8.4M188.3 201.3l8.4 8.4m0-8.4l-8.4 8.4M189.3 180.3l8.4 8.4m0-8.4l-8.4 8.4M189.3 201.3l8.4 8.4m0-8.4l-8.4 8.4M190.3 180.3l8.4 8.4m0-8.4l-8.4 8.4M190.3 201.3l8.4 8.4m0-8.4l-8.4 8.4M191.3 180.3l8.4 8.4m0-8.4l-8.4 8.4M191.3 201.3l8.4 8.4m0-8.4l-8.4 8.4M191.3 221.3l8.4 8.4m0-8.4l-8.4 8.4M192.3 180.3l8.4 8.4m0-8.4l-8.4 8.4M192.3 201.3l8.4 8.4m0-8.4l-8.4 8.4M193.3 159.3l8.4 8.4m0-8.4l-8.4 8.4M193.3 201.3l8.4 8.4m0-8.4l-8.4 8.4M194.3 180.3l8.4 8.4m0-8.4l-8.4 8.4M194.3 221.3l8.4 8.4m0-8.4l-8.4 8.4M195.3 138.3l8.4 8.4m0-8.4l-8.4 8.4M195.3 159.3l8.4 8.4m0-8.4l-8.4 8.4M195.3 180.3l8.4 8.4m0-8.4l-8.4 8.4M195.3 201.3l8.4 8.4m0-8.4l-8.4 8.4M196.3 180.3l8.4 8.4m0-8.4l-8.4 8.4M196.3 201.3l8.4 8.4m0-8.4l-8.4 8.4M197.3 180.3l8.4 8.4m0-8.4l-8.4 8.4M197.3 201.3l8.4 8.4m0-8.4l-8.4 8.4M198.3 180.3l8.4 8.4m0-8.4l-8.4 8.4M198.3 242.3l8.4 8.4m0-8.4l-8.4 8.4M199.3 159.3l8.4 8.4m0-8.4l-8.4 8.4M199.3 180.3l8.4 8.4m0-8.4l-8.4 8.4M199.3 201.3l8.4 8.4m0-8.4l-8.4 8.4M200.3 180.3l8.4 8.4m0-8.4l-8.4 8.4M200.3 201.3l8.4 8.4m0-8.4l-8.4 8.4M201.3 180.3l8.4 8.4m0-8.4l-8.4 8.4M201.3 201.3l8.4 8.4m0-8.4l-8.4 8.4M201.3 221.3l8.4 8.4m0-8.4l-8.4 8.4M202.3 180.3l8.4 8.4m0-8.4l-8.4 8.4M202.3 201.3l8.4 8.4m0-8.4l-8.4 8.4M203.3 180.3l8.4 8.4m0-8.4l-8.4 8.4M203.3 201.3l8.4 8.4m0-8.4l-8.4 8.4M203.3 221.3l8.4 8.4m0-8.4l-8.4 8.4M204.3 159.3l8.4 8.4m0-8.4l-8.4 8.4M204.3 180.3l8.4 8.4m0-8.4l-8.4 8.4M204.3 201.3l8.4 8.4m0-8.4l-8.4 8.4M205.3 180.3l8.4 8.4m0-8.4l-8.4 8.4M205.3 201.3l8.4 8.4m0-8.4l-8.4 8.4M206.3 138.3l8.4 8.4m0-8.4l-8.4 8.4M206.3 159.3l8.4 8.4m0-8.4l-8.4 8.4M206.3 201.3l8.4 8.4m0-8.4l-8.4 8.4M207.3 180.3l8.4 8.4m0-8.4l-8.4 8.4M207.3 201.3l8.4 8.4m0-8.4l-8.4 8.4M208.3 180.3l8.4 8.4m0-8.4l-8.4 8.4M208.3 201.3l8.4 8.4m0-8.4l-8.4 8.4M209.3 180.3l8.4 8.4m0-8.4l-8.4 8.4M209.3 201.3l8.4 8.4m0-8.4l-8.4 8.4M210.3 159.3l8.4 8.4m0-8.4l-8.4 8.4M210.3 201.3l8.4 8.4m0-8.4l-8.4 8.4M210.3 221.3l8.4 8.4m0-8.4l-8.4 8.4M211.3 180.3l8.4 8.4m0-8.4l-8.4 8.4M211.3 201.3l8.4 8.4m0-8.4l-8.4 8.4M211.3 221.3l8.4 8.4m0-8.4l-8.4 8.4M212.3 180.3l8.4 8.4m0-8.4l-8.4 8.4M212.3 201.3l8.4 8.4m0-8.4l-8.4 8.4M213.3 180.3l8.4 8.4m0-8.4l-8.4 8.4M213.3 201.3l8.4 8.4m0-8.4l-8.4 8.4M214.3 159.3l8.4 8.4m0-8.4l-8.4 8.4M214.3 180.3l8.4 8.4m0-8.4l-8.4 8.4M214.3 201.3l8.4 8.4m0-8.4l-8.4 8.4M215.3 180.3l8.4 8.4m0-8.4l-8.4 8.4M215.3 201.3l8.4 8.4m0-8.4l-8.4 8.4M215.3 263.3l8.4 8.4m0-8.4l-8.4 8.4M216.3 180.3l8.4 8.4m0-8.4l-8.4 8.4M216.3 201.3l8.4 8.4m0-8.4l-8.4 8.4M217.3 180.3l8.4 8.4m0-8.4l-8.4 8.4M217.3 201.3l8.4 8.4m0-8.4l-8.4 8.4M218.3 180.3l8.4 8.4m0-8.4l-8.4 8.4M218.3 201.3l8.4 8.4m0-8.4l-8.4 8.4M219.3 159.3l8.4 8.4m0-8.4l-8.4 8.4M219.3 180.3l8.4 8.4m0-8.4l-8.4 8.4M219.3 221.3l8.4 8.4m0-8.4l-8.4 8.4M220.3 201.3l8.4 8.4m0-8.4l-8.4 8.4M221.3 180.3l8.4 8.4m0-8.4l-8.4 8.4M221.3 221.3l8.4 8.4m0-8.4l-8.4 8.4M222.3 159.3l8.4 8.4m0-8.4l-8.4 8.4M222.3 180.3l8.4 8.4m0-8.4l-8.4 8.4M222.3 221.3l8.4 8.4m0-8.4l-8.4 8.4M223.3 180.3l8.4 8.4m0-8.4l-8.4 8.4M223.3 201.3l8.4 8.4m0-8.4l-8.4 8.4M223.3 242.3l8.4 8.4m0-8.4l-8.4 8.4M224.3 201.3l8.4 8.4m0-8.4l-8.4 8.4M224.3 242.3l8.4 8.4m0-8.4l-8.4 8.4M225.3 159.3l8.4 8.4m0-8.4l-8.4 8.4M225.3 180.3l8.4 8.4m0-8.4l-8.4 8.4M225.3 201.3l8.4 8.4m0-8.4l-8.4 8.4M225.3 242.3l8.4 8.4m0-8.4l-8.4 8.4M226.3 201.3l8.4 8.4m0-8.4l-8.4 8.4M226.3 221.3l8.4 8.4m0-8.4l-8.4 8.4M226.3 242.3l8.4 8.4m0-8.4l-8.4 8.4M227.3 180.3l8.4 8.4m0-8.4l-8.4 8.4M227.3 201.3l8.4 8.4m0-8.4l-8.4 8.4M227.3 242.3l8.4 8.4m0-8.4l-8.4 8.4M228.3 180.3l8.4 8.4m0-8.4l-8.4 8.4M228.3 201.3l8.4 8.4m0-8.4l-8.4 8.4M228.3 242.3l8.4 8.4m0-8.4l-8.4 8.4M229.3 97.3l8.4 8.4m0-8.4l-8.4 8.4M229.3 138.3l8.4 8.4m0-8.4l-8.4 8.4M229.3 201.3l8.4 8.4m0-8.4l-8.4 8.4M229.3 221.3l8.4 8.4m0-8.4l-8.4 8.4M230.3 159.3l8.4 8.4m0-8.4l-8.4 8.4M230.3 180.3l8.4 8.4m0-8.4l-8.4 8.4M230.3 201.3l8.4 8.4m0-8.4l-8.4 8.4M231.3 180.3l8.4 8.4m0-8.4l-8.4 8.4M231.3 201.3l8.4 8.4m0-8.4l-8.4 8.4M232.3 180.3l8.4 8.4m0-8.4l-8.4 8.4M232.3 201.3l8.4 8.4m0-8.4l-8.4 8.4M232.3 221.3l8.4 8.4m0-8.4l-8.4 8.4M233.3 180.3l8.4 8.4m0-8.4l-8.4 8.4M233.3 201.3l8.4 8.4m0-8.4l-8.4 8.4M233.3 221.3l8.4 8.4m0-8.4l-8.4 8.4M234.3 180.3l8.4 8.4m0-8.4l-8.4 8.4M234.3 201.3l8.4 8.4m0-8.4l-8.4 8.4M235.3 180.3l8.4 8.4m0-8.4l-8.4 8.4M235.3 201.3l8.4 8.4m0-8.4l-8.4 8.4M236.3 180.3l8.4 8.4m0-8.4l-8.4 8.4M236.3 201.3l8.4 8.4m0-8.4l-8.4 8.4M236.3 221.3l8.4 8.4m0-8.4l-8.4 8.4M237.3 180.3l8.4 8.4m0-8.4l-8.4 8.4M237.3 201.3l8.4 8.4m0-8.4l-8.4 8.4M237.3 263.3l8.4 8.4m0-8.4l-8.4 8.4M238.3 159.3l8.4 8.4m0-8.4l-8.4 8.4M238.3 180.3l8.4 8.4m0-8.4l-8.4 8.4M238.3 201.3l8.4 8.4m0-8.4l-8.4 8.4M239.3 180.3l8.4 8.4m0-8.4l-8.4 8.4M239.3 201.3l8.4 8.4m0-8.4l-8.4 8.4M240.3 180.3l8.4 8.4m0-8.4l-8.4 8.4M240.3 201.3l8.4 8.4m0-8.4l-8.4 8.4M241.3 159.3l8.4 8.4m0-8.4l-8.4 8.4M241.3 180.3l8.4 8.4m0-8.4l-8.4 8.4M241.3 201.3l8.4 8.4m0-8.4l-8.4 8.4M241.3 221.3l8.4 8.4m0-8.4l-8.4 8.4M242.3 180.3l8.4 8.4m0-8.4l-8.4 8.4M242.3 201.3l8.4 8.4m0-8.4l-8.4 8.4M243.3 180.3l8.4 8.4m0-8.4l-8.4 8.4M243.3 201.3l8.4 8.4m0-8.4l-8.4 8.4M243.3 221.3l8.4 8.4m0-8.4l-8.4 8.4M244.3 159.3l8.4 8.4m0-8.4l-8.4 8.4M244.3 180.3l8.4 8.4m0-8.4l-8.4 8.4M244.3 201.3l8.4 8.4m0-8.4l-8.4 8.4M245.3 180.3l8.4 8.4m0-8.4l-8.4 8.4M245.3 201.3l8.4 8.4m0-8.4l-8.4 8.4M245.3 221.3l8.4 8.4m0-8.4l-8.4 8.4M246.3 180.3l8.4 8.4m0-8.4l-8.4 8.4M246.3 201.3l8.4 8.4m0-8.4l-8.4 8.4M247.3 180.3l8.4 8.4m0-8.4l-8.4 8.4M247.3 201.3l8.4 8.4m0-8.4l-8.4 8.4M248.3 180.3l8.4 8.4m0-8.4l-8.4 8.4M248.3 201.3l8.4 8.4m0-8.4l-8.4 8.4M249.3 180.3l8.4 8.4m0-8.4l-8.4 8.4M249.3 201.3l8.4 8.4m0-8.4l-8.4 8.4M250.3 180.3l8.4 8.4m0-8.4l-8.4 8.4M250.3 201.3l8.4 8.4m0-8.4l-8.4 8.4M250.3 221.3l8.4 8.4m0-8.4l-8.4 8.4M251.3 180.3l8.4 8.4m0-8.4l-8.4 8.4M252.3 118.3l8.4 8.4m0-8.4l-8.4 8.4M252.3 180.3l8.4 8.4m0-8.4l-8.4 8.4M253.3 180.3l8.4 8.4m0-8.4l-8.4 8.4M253.3 201.3l8.4 8.4m0-8.4l-8.4 8.4M253.3 221.3l8.4 8.4m0-8.4l-8.4 8.4M254.3 180.3l8.4 8.4m0-8.4l-8.4 8.4M254.3 201.3l8.4 8.4m0-8.4l-8.4 8.4M254.3 221.3l8.4 8.4m0-8.4l-8.4 8.4M255.3 201.3l8.4 8.4m0-8.4l-8.4 8.4M255.3 221.3l8.4 8.4m0-8.4l-8.4 8.4M255.3 284.3l8.4 8.4m0-8.4l-8.4 8.4M256.3 180.3l8.4 8.4m0-8.4l-8.4 8.4M256.3 201.3l8.4 8.4m0-8.4l-8.4 8.4M257.3 159.3l8.4 8.4m0-8.4l-8.4 8.4M257.3 180.3l8.4 8.4m0-8.4l-8.4 8.4M257.3 201.3l8.4 8.4m0-8.4l-8.4 8.4M257.3 221.3l8.4 8.4m0-8.4l-8.4 8.4M258.3 180.3l8.4 8.4m0-8.4l-8.4 8.4M258.3 201.3l8.4 8.4m0-8.4l-8.4 8.4M259.3 180.3l8.4 8.4m0-8.4l-8.4 8.4M259.3 201.3l8.4 8.4m0-8.4l-8.4 8.4M260.3 159.3l8.4 8.4m0-8.4l-8.4 8.4M260.3 180.3l8.4 8.4m0-8.4l-8.4 8.4M260.3 201.3l8.4 8.4m0-8.4l-8.4 8.4M261.3 180.3l8.4 8.4m0-8.4l-8.4 8.4M261.3 201.3l8.4 8.4m0-8.4l-8.4 8.4M262.3 180.3l8.4 8.4m0-8.4l-8.4 8.4M262.3 201.3l8.4 8.4m0-8.4l-8.4 8.4M262.3 221.3l8.4 8.4m0-8.4l-8.4 8.4M263.3 201.3l8.4 8.4m0-8.4l-8.4 8.4M263.3 221.3l8.4 8.4m0-8.4l-8.4 8.4M264.3 180.3l8.4 8.4m0-8.4l-8.4 8.4M264.3 221.3l8.4 8.4m0-8.4l-8.4 8.4M265.3 159.3l8.4 8.4m0-8.4l-8.4 8.4M265.3 180.3l8.4 8.4m0-8.4l-8.4 8.4M265.3 221.3l8.4 8.4m0-8.4l-8.4 8.4M266.3 221.3l8.4 8.4m0-8.4l-8.4 8.4M267.3 221.3l8.4 8.4m0-8.4l-8.4 8.4M268.3 180.3l8.4 8.4m0-8.4l-8.4 8.4M268.3 221.3l8.4 8.4m0-8.4l-8.4 8.4M269.3 180.3l8.4 8.4m0-8.4l-8.4 8.4M270.3 159.3l8.4 8.4m0-8.4l-8.4 8.4M270.3 180.3l8.4 8.4m0-8.4l-8.4 8.4M271.3 180.3l8.4 8.4m0-8.4l-8.4 8.4M271.3 221.3l8.4 8.4m0-8.4l-8.4 8.4M272.3 201.3l8.4 8.4m0-8.4l-8.4 8.4M272.3 221.3l8.4 8.4m0-8.4l-8.4 8.4M273.3 180.3l8.4 8.4m0-8.4l-8.4 8.4M273.3 201.3l8.4 8.4m0-8.4l-8.4 8.4M273.3 242.3l8.4 8.4m0-8.4l-8.4 8.4M274.3 180.3l8.4 8.4m0-8.4l-8.4 8.4M274.3 201.3l8.4 8.4m0-8.4l-8.4 8.4M274.3 221.3l8.4 8.4m0-8.4l-8.4 8.4M275.3 180.3l8.4 8.4m0-8.4l-8.4 8.4M275.3 201.3l8.4 8.4m0-8.4l-8.4 8.4M276.3 159.3l8.4 8.4m0-8.4l-8.4 8.4M276.3 201.3l8.4 8.4m0-8.4l-8.4 8.4M276.3 221.3l8.4 8.4m0-8.4l-8.4 8.4M276.3 242.3l8.4 8.4m0-8.4l-8.4 8.4M277.3 138.3l8.4 8.4m0-8.4l-8.4 8.4M277.3 180.3l8.4 8.4m0-8.4l-8.4 8.4M277.3 221.3l8.4 8.4m0-8.4l-8.4 8.4M278.3 180.3l8.4 8.4m0-8.4l-8.4 8.4M278.3 201.3l8.4 8.4m0-8.4l-8.4 8.4M279.3 180.3l8.4 8.4m0-8.4l-8.4 8.4M279.3 201.3l8.4 8.4m0-8.4l-8.4 8.4M280.3 159.3l8.4 8.4m0-8.4l-8.4 8.4M280.3 180.3l8.4 8.4m0-8.4l-8.4 8.4M280.3 201.3l8.4 8.4m0-8.4l-8.4 8.4M280.3 221.3l8.4 8.4m0-8.4l-8.4 8.4M281.3 180.3l8.4 8.4m0-8.4l-8.4 8.4M282.3 180.3l8.4 8.4m0-8.4l-8.4 8.4M282.3 201.3l8.4 8.4m0-8.4l-8.4 8.4M283.3 180.3l8.4 8.4m0-8.4l-8.4 8.4M283.3 201.3l8.4 8.4m0-8.4l-8.4 8.4M283.3 263.3l8.4 8.4m0-8.4l-8.4 8.4M284.3 180.3l8.4 8.4m0-8.4l-8.4 8.4M284.3 201.3l8.4 8.4m0-8.4l-8.4 8.4M284.3 221.3l8.4 8.4m0-8.4l-8.4 8.4M285.3 201.3l8.4 8.4m0-8.4l-8.4 8.4M285.3 221.3l8.4 8.4m0-8.4l-8.4 8.4M286.3 201.3l8.4 8.4m0-8.4l-8.4 8.4M286.3 221.3l8.4 8.4m0-8.4l-8.4 8.4M287.3 180.3l8.4 8.4m0-8.4l-8.4 8.4M287.3 201.3l8.4 8.4m0-8.4l-8.4 8.4M288.3 180.3l8.4 8.4m0-8.4l-8.4 8.4M288.3 201.3l8.4 8.4m0-8.4l-8.4 8.4M289.3 180.3l8.4 8.4m0-8.4l-8.4 8.4M290.3 180.3l8.4 8.4m0-8.4l-8.4 8.4M290.3 201.3l8.4 8.4m0-8.4l-8.4 8.4M290.3 221.3l8.4 8.4m0-8.4l-8.4 8.4M291.3 180.3l8.4 8.4m0-8.4l-8.4 8.4M291.3 201.3l8.4 8.4m0-8.4l-8.4 8.4M292.3 180.3l8.4 8.4m0-8.4l-8.4 8.4M292.3 201.3l8.4 8.4m0-8.4l-8.4 8.4M292.3 221.3l8.4 8.4m0-8.4l-8.4 8.4M293.3 180.3l8.4 8.4m0-8.4l-8.4 8.4M293.3 201.3l8.4 8.4m0-8.4l-8.4 8.4M293.3 242.3l8.4 8.4m0-8.4l-8.4 8.4M294.3 180.3l8.4 8.4m0-8.4l-8.4 8.4M294.3 201.3l8.4 8.4m0-8.4l-8.4 8.4M295.3 180.3l8.4 8.4m0-8.4l-8.4 8.4M295.3 201.3l8.4 8.4m0-8.4l-8.4 8.4M295.3 221.3l8.4 8.4m0-8.4l-8.4 8.4M296.3 201.3l8.4 8.4m0-8.4l-8.4 8.4M296.3 221.3l8.4 8.4m0-8.4l-8.4 8.4M297.3 180.3l8.4 8.4m0-8.4l-8.4 8.4M297.3 201.3l8.4 8.4m0-8.4l-8.4 8.4M297.3 221.3l8.4 8.4m0-8.4l-8.4 8.4M298.3 180.3l8.4 8.4m0-8.4l-8.4 8.4M298.3 201.3l8.4 8.4m0-8.4l-8.4 8.4M299.3 180.3l8.4 8.4m0-8.4l-8.4 8.4M299.3 201.3l8.4 8.4m0-8.4l-8.4 8.4M299.3 221.3l8.4 8.4m0-8.4l-8.4 8.4M300.3 201.3l8.4 8.4m0-8.4l-8.4 8.4M300.3 221.3l8.4 8.4m0-8.4l-8.4 8.4M301.3 180.3l8.4 8.4m0-8.4l-8.4 8.4M301.3 201.3l8.4 8.4m0-8.4l-8.4 8.4M301.3 221.3l8.4 8.4m0-8.4l-8.4 8.4M302.3 201.3l8.4 8.4m0-8.4l-8.4 8.4M302.3 221.3l8.4 8.4m0-8.4l-8.4 8.4M303.3 180.3l8.4 8.4m0-8.4l-8.4 8.4M303.3 201.3l8.4 8.4m0-8.4l-8.4 8.4M304.3 180.3l8.4 8.4m0-8.4l-8.4 8.4M304.3 201.3l8.4 8.4m0-8.4l-8.4 8.4M305.3 118.3l8.4 8.4m0-8.4l-8.4 8.4M305.3 180.3l8.4 8.4m0-8.4l-8.4 8.4M305.3 201.3l8.4 8.4m0-8.4l-8.4 8.4M306.3 180.3l8.4 8.4m0-8.4l-8.4 8.4M306.3 201.3l8.4 8.4m0-8.4l-8.4 8.4M307.3 180.3l8.4 8.4m0-8.4l-8.4 8.4M307.3 201.3l8.4 8.4m0-8.4l-8.4 8.4M308.3 180.3l8.4 8.4m0-8.4l-8.4 8.4M308.3 201.3l8.4 8.4m0-8.4l-8.4 8.4M309.3 201.3l8.4 8.4m0-8.4l-8.4 8.4M309.3 221.3l8.4 8.4m0-8.4l-8.4 8.4M309.3 242.3l8.4 8.4m0-8.4l-8.4 8.4M310.3 180.3l8.4 8.4m0-8.4l-8.4 8.4M310.3 201.3l8.4 8.4m0-8.4l-8.4 8.4M311.3 159.3l8.4 8.4m0-8.4l-8.4 8.4M311.3 201.3l8.4 8.4m0-8.4l-8.4 8.4M311.3 221.3l8.4 8.4m0-8.4l-8.4 8.4M312.3 180.3l8.4 8.4m0-8.4l-8.4 8.4M313.3 180.3l8.4 8.4m0-8.4l-8.4 8.4M313.3 221.3l8.4 8.4m0-8.4l-8.4 8.4M314.3 180.3l8.4 8.4m0-8.4l-8.4 8.4M314.3 201.3l8.4 8.4m0-8.4l-8.4 8.4M314.3 221.3l8.4 8.4m0-8.4l-8.4 8.4M314.3 242.3l8.4 8.4m0-8.4l-8.4 8.4M315.3 180.3l8.4 8.4m0-8.4l-8.4 8.4M315.3 201.3l8.4 8.4m0-8.4l-8.4 8.4M316.3 159.3l8.4 8.4m0-8.4l-8.4 8.4M316.3 180.3l8.4 8.4m0-8.4l-8.4 8.4M316.3 201.3l8.4 8.4m0-8.4l-8.4 8.4M316.3 242.3l8.4 8.4m0-8.4l-8.4 8.4M317.3 180.3l8.4 8.4m0-8.4l-8.4 8.4M317.3 201.3l8.4 8.4m0-8.4l-8.4 8.4M318.3 201.3l8.4 8.4m0-8.4l-8.4 8.4M319.3 180.3l8.4 8.4m0-8.4l-8.4 8.4M319.3 201.3l8.4 8.4m0-8.4l-8.4 8.4M320.3 201.3l8.4 8.4m0-8.4l-8.4 8.4M320.3 221.3l8.4 8.4m0-8.4l-8.4 8.4M321.3 180.3l8.4 8.4m0-8.4l-8.4 8.4M321.3 201.3l8.4 8.4m0-8.4l-8.4 8.4M322.3 201.3l8.4 8.4m0-8.4l-8.4 8.4M322.3 221.3l8.4 8.4m0-8.4l-8.4 8.4M323.3 180.3l8.4 8.4m0-8.4l-8.4 8.4M323.3 201.3l8.4 8.4m0-8.4l-8.4 8.4M324.3 180.3l8.4 8.4m0-8.4l-8.4 8.4M324.3 201.3l8.4 8.4m0-8.4l-8.4 8.4M325.3 159.3l8.4 8.4m0-8.4l-8.4 8.4M325.3 180.3l8.4 8.4m0-8.4l-8.4 8.4M326.3 180.3l8.4 8.4m0-8.4l-8.4 8.4M326.3 201.3l8.4 8.4m0-8.4l-8.4 8.4M327.3 180.3l8.4 8.4m0-8.4l-8.4 8.4M327.3 201.3l8.4 8.4m0-8.4l-8.4 8.4M328.3 180.3l8.4 8.4m0-8.4l-8.4 8.4M328.3 201.3l8.4 8.4m0-8.4l-8.4 8.4M329.3 180.3l8.4 8.4m0-8.4l-8.4 8.4M329.3 201.3l8.4 8.4m0-8.4l-8.4 8.4M330.3 180.3l8.4 8.4m0-8.4l-8.4 8.4M330.3 201.3l8.4 8.4m0-8.4l-8.4 8.4M331.3 180.3l8.4 8.4m0-8.4l-8.4 8.4M331.3 201.3l8.4 8.4m0-8.4l-8.4 8.4M331.3 221.3l8.4 8.4m0-8.4l-8.4 8.4M332.3 159.3l8.4 8.4m0-8.4l-8.4 8.4M332.3 180.3l8.4 8.4m0-8.4l-8.4 8.4M332.3 201.3l8.4 8.4m0-8.4l-8.4 8.4M332.3 221.3l8.4 8.4m0-8.4l-8.4 8.4M333.3 180.3l8.4 8.4m0-8.4l-8.4 8.4M333.3 201.3l8.4 8.4m0-8.4l-8.4 8.4M333.3 221.3l8.4 8.4m0-8.4l-8.4 8.4M334.3 201.3l8.4 8.4m0-8.4l-8.4 8.4M334.3 221.3l8.4 8.4m0-8.4l-8.4 8.4M335.3 180.3l8.4 8.4m0-8.4l-8.4 8.4M335.3 201.3l8.4 8.4m0-8.4l-8.4 8.4M335.3 221.3l8.4 8.4m0-8.4l-8.4 8.4M336.3 180.3l8.4 8.4m0-8.4l-8.4 8.4M336.3 201.3l8.4 8.4m0-8.4l-8.4 8.4M336.3 221.3l8.4 8.4m0-8.4l-8.4 8.4M337.3 180.3l8.4 8.4m0-8.4l-8.4 8.4M337.3 201.3l8.4 8.4m0-8.4l-8.4 8.4M337.3 221.3l8.4 8.4m0-8.4l-8.4 8.4M338.3 180.3l8.4 8.4m0-8.4l-8.4 8.4M338.3 201.3l8.4 8.4m0-8.4l-8.4 8.4M339.3 180.3l8.4 8.4m0-8.4l-8.4 8.4M339.3 201.3l8.4 8.4m0-8.4l-8.4 8.4M340.3 159.3l8.4 8.4m0-8.4l-8.4 8.4M340.3 180.3l8.4 8.4m0-8.4l-8.4 8.4M340.3 201.3l8.4 8.4m0-8.4l-8.4 8.4M341.3 180.3l8.4 8.4m0-8.4l-8.4 8.4M341.3 201.3l8.4 8.4m0-8.4l-8.4 8.4M341.3 242.3l8.4 8.4m0-8.4l-8.4 8.4M342.3 180.3l8.4 8.4m0-8.4l-8.4 8.4M342.3 201.3l8.4 8.4m0-8.4l-8.4 8.4M342.3 221.3l8.4 8.4m0-8.4l-8.4 8.4M343.3 180.3l8.4 8.4m0-8.4l-8.4 8.4M344.3 180.3l8.4 8.4m0-8.4l-8.4 8.4M344.3 242.3l8.4 8.4m0-8.4l-8.4 8.4M345.3 180.3l8.4 8.4m0-8.4l-8.4 8.4M345.3 201.3l8.4 8.4m0-8.4l-8.4 8.4M346.3 180.3l8.4 8.4m0-8.4l-8.4 8.4M346.3 201.3l8.4 8.4m0-8.4l-8.4 8.4M347.3 180.3l8.4 8.4m0-8.4l-8.4 8.4M347.3 201.3l8.4 8.4m0-8.4l-8.4 8.4M347.3 221.3l8.4 8.4m0-8.4l-8.4 8.4M348.3 201.3l8.4 8.4m0-8.4l-8.4 8.4M348.3 221.3l8.4 8.4m0-8.4l-8.4 8.4M349.3 118.3l8.4 8.4m0-8.4l-8.4 8.4M349.3 159.3l8.4 8.4m0-8.4l-8.4 8.4M349.3 201.3l8.4 8.4m0-8.4l-8.4 8.4M349.3 221.3l8.4 8.4m0-8.4l-8.4 8.4M350.3 138.3l8.4 8.4m0-8.4l-8.4 8.4M350.3 180.3l8.4 8.4m0-8.4l-8.4 8.4M350.3 221.3l8.4 8.4m0-8.4l-8.4 8.4M351.3 180.3l8.4 8.4m0-8.4l-8.4 8.4M351.3 201.3l8.4 8.4m0-8.4l-8.4 8.4M351.3 221.3l8.4 8.4m0-8.4l-8.4 8.4M352.3 180.3l8.4 8.4m0-8.4l-8.4 8.4M352.3 201.3l8.4 8.4m0-8.4l-8.4 8.4M352.3 221.3l8.4 8.4m0-8.4l-8.4 8.4M353.3 180.3l8.4 8.4m0-8.4l-8.4 8.4M353.3 201.3l8.4 8.4m0-8.4l-8.4 8.4M354.3 180.3l8.4 8.4m0-8.4l-8.4 8.4M354.3 201.3l8.4 8.4m0-8.4l-8.4 8.4M354.3 242.3l8.4 8.4m0-8.4l-8.4 8.4M355.3 180.3l8.4 8.4m0-8.4l-8.4 8.4M355.3 201.3l8.4 8.4m0-8.4l-8.4 8.4M356.3 138.3l8.4 8.4m0-8.4l-8.4 8.4M356.3 159.3l8.4 8.4m0-8.4l-8.4 8.4M356.3 180.3l8.4 8.4m0-8.4l-8.4 8.4M356.3 221.3l8.4 8.4m0-8.4l-8.4 8.4M357.3 180.3l8.4 8.4m0-8.4l-8.4 8.4M357.3 221.3l8.4 8.4m0-8.4l-8.4 8.4M357.3 263.3l8.4 8.4m0-8.4l-8.4 8.4M358.3 180.3l8.4 8.4m0-8.4l-8.4 8.4M358.3 201.3l8.4 8.4m0-8.4l-8.4 8.4M358.3 221.3l8.4 8.4m0-8.4l-8.4 8.4M359.3 180.3l8.4 8.4m0-8.4l-8.4 8.4M359.3 221.3l8.4 8.4m0-8.4l-8.4 8.4M360.3 201.3l8.4 8.4m0-8.4l-8.4 8.4M360.3 221.3l8.4 8.4m0-8.4l-8.4 8.4M361.3 201.3l8.4 8.4m0-8.4l-8.4 8.4M361.3 221.3l8.4 8.4m0-8.4l-8.4 8.4M362.3 180.3l8.4 8.4m0-8.4l-8.4 8.4M362.3 221.3l8.4 8.4m0-8.4l-8.4 8.4M363.3 180.3l8.4 8.4m0-8.4l-8.4 8.4M363.3 201.3l8.4 8.4m0-8.4l-8.4 8.4M363.3 221.3l8.4 8.4m0-8.4l-8.4 8.4M363.3 242.3l8.4 8.4m0-8.4l-8.4 8.4M364.3 180.3l8.4 8.4m0-8.4l-8.4 8.4M364.3 201.3l8.4 8.4m0-8.4l-8.4 8.4M365.3 180.3l8.4 8.4m0-8.4l-8.4 8.4M365.3 201.3l8.4 8.4m0-8.4l-8.4 8.4M366.3 180.3l8.4 8.4m0-8.4l-8.4 8.4M366.3 201.3l8.4 8.4m0-8.4l-8.4 8.4M366.3 221.3l8.4 8.4m0-8.4l-8.4 8.4M367.3 180.3l8.4 8.4m0-8.4l-8.4 8.4M367.3 221.3l8.4 8.4m0-8.4l-8.4 8.4M368.3 159.3l8.4 8.4m0-8.4l-8.4 8.4M368.3 180.3l8.4 8.4m0-8.4l-8.4 8.4M368.3 221.3l8.4 8.4m0-8.4l-8.4 8.4M369.3 180.3l8.4 8.4m0-8.4l-8.4 8.4M369.3 242.3l8.4 8.4m0-8.4l-8.4 8.4M370.3 180.3l8.4 8.4m0-8.4l-8.4 8.4M370.3 201.3l8.4 8.4m0-8.4l-8.4 8.4M370.3 221.3l8.4 8.4m0-8.4l-8.4 8.4M371.3 180.3l8.4 8.4m0-8.4l-8.4 8.4M371.3 221.3l8.4 8.4m0-8.4l-8.4 8.4M372.3 180.3l8.4 8.4m0-8.4l-8.4 8.4M372.3 201.3l8.4 8.4m0-8.4l-8.4 8.4M372.3 221.3l8.4 8.4m0-8.4l-8.4 8.4M373.3 180.3l8.4 8.4m0-8.4l-8.4 8.4M373.3 221.3l8.4 8.4m0-8.4l-8.4 8.4M374.3 180.3l8.4 8.4m0-8.4l-8.4 8.4M374.3 201.3l8.4 8.4m0-8.4l-8.4 8.4M375.3 180.3l8.4 8.4m0-8.4l-8.4 8.4M375.3 242.3l8.4 8.4m0-8.4l-8.4 8.4M376.3 180.3l8.4 8.4m0-8.4l-8.4 8.4M376.3 201.3l8.4 8.4m0-8.4l-8.4 8.4M377.3 180.3l8.4 8.4m0-8.4l-8.4 8.4M377.3 201.3l8.4 8.4m0-8.4l-8.4 8.4M377.3 221.3l8.4 8.4m0-8.4l-8.4 8.4M378.3 180.3l8.4 8.4m0-8.4l-8.4 8.4M378.3 201.3l8.4 8.4m0-8.4l-8.4 8.4M379.3 159.3l8.4 8.4m0-8.4l-8.4 8.4M379.3 180.3l8.4 8.4m0-8.4l-8.4 8.4M379.3 221.3l8.4 8.4m0-8.4l-8.4 8.4M380.3 180.3l8.4 8.4m0-8.4l-8.4 8.4M380.3 221.3l8.4 8.4m0-8.4l-8.4 8.4M380.3 242.3l8.4 8.4m0-8.4l-8.4 8.4M381.3 201.3l8.4 8.4m0-8.4l-8.4 8.4M381.3 221.3l8.4 8.4m0-8.4l-8.4 8.4M382.3 180.3l8.4 8.4m0-8.4l-8.4 8.4M382.3 201.3l8.4 8.4m0-8.4l-8.4 8.4M383.3 201.3l8.4 8.4m0-8.4l-8.4 8.4M383.3 221.3l8.4 8.4m0-8.4l-8.4 8.4M384.3 180.3l8.4 8.4m0-8.4l-8.4 8.4M384.3 201.3l8.4 8.4m0-8.4l-8.4 8.4M385.3 138.3l8.4 8.4m0-8.4l-8.4 8.4M385.3 159.3l8.4 8.4m0-8.4l-8.4 8.4M385.3 180.3l8.4 8.4m0-8.4l-8.4 8.4M385.3 221.3l8.4 8.4m0-8.4l-8.4 8.4M386.3 180.3l8.4 8.4m0-8.4l-8.4 8.4M386.3 201.3l8.4 8.4m0-8.4l-8.4 8.4M387.3 201.3l8.4 8.4m0-8.4l-8.4 8.4M387.3 221.3l8.4 8.4m0-8.4l-8.4 8.4M388.3 180.3l8.4 8.4m0-8.4l-8.4 8.4M388.3 201.3l8.4 8.4m0-8.4l-8.4 8.4M389.3 180.3l8.4 8.4m0-8.4l-8.4 8.4M389.3 201.3l8.4 8.4m0-8.4l-8.4 8.4M389.3 221.3l8.4 8.4m0-8.4l-8.4 8.4M390.3 180.3l8.4 8.4m0-8.4l-8.4 8.4M390.3 201.3l8.4 8.4m0-8.4l-8.4 8.4M391.3 159.3l8.4 8.4m0-8.4l-8.4 8.4M391.3 180.3l8.4 8.4m0-8.4l-8.4 8.4M391.3 201.3l8.4 8.4m0-8.4l-8.4 8.4M392.3 180.3l8.4 8.4m0-8.4l-8.4 8.4M392.3 201.3l8.4 8.4m0-8.4l-8.4 8.4M393.3 180.3l8.4 8.4m0-8.4l-8.4 8.4M393.3 201.3l8.4 8.4m0-8.4l-8.4 8.4M394.3 180.3l8.4 8.4m0-8.4l-8.4 8.4M394.3 201.3l8.4 8.4m0-8.4l-8.4 8.4M394.3 221.3l8.4 8.4m0-8.4l-8.4 8.4M395.3 159.3l8.4 8.4m0-8.4l-8.4 8.4M395.3 180.3l8.4 8.4m0-8.4l-8.4 8.4M395.3 201.3l8.4 8.4m0-8.4l-8.4 8.4M395.3 221.3l8.4 8.4m0-8.4l-8.4 8.4M396.3 180.3l8.4 8.4m0-8.4l-8.4 8.4M396.3 201.3l8.4 8.4m0-8.4l-8.4 8.4M396.3 221.3l8.4 8.4m0-8.4l-8.4 8.4M397.3 180.3l8.4 8.4m0-8.4l-8.4 8.4M397.3 201.3l8.4 8.4m0-8.4l-8.4 8.4M398.3 180.3l8.4 8.4m0-8.4l-8.4 8.4M398.3 201.3l8.4 8.4m0-8.4l-8.4 8.4M398.3 221.3l8.4 8.4m0-8.4l-8.4 8.4M399.3 180.3l8.4 8.4m0-8.4l-8.4 8.4M399.3 201.3l8.4 8.4m0-8.4l-8.4 8.4M399.3 221.3l8.4 8.4m0-8.4l-8.4 8.4M400.3 180.3l8.4 8.4m0-8.4l-8.4 8.4M400.3 201.3l8.4 8.4m0-8.4l-8.4 8.4M400.3 221.3l8.4 8.4m0-8.4l-8.4 8.4M401.3 180.3l8.4 8.4m0-8.4l-8.4 8.4M401.3 201.3l8.4 8.4m0-8.4l-8.4 8.4M401.3 221.3l8.4 8.4m0-8.4l-8.4 8.4M402.3 180.3l8.4 8.4m0-8.4l-8.4 8.4M402.3 201.3l8.4 8.4m0-8.4l-8.4 8.4M402.3 221.3l8.4 8.4m0-8.4l-8.4 8.4M403.3 180.3l8.4 8.4m0-8.4l-8.4 8.4M403.3 201.3l8.4 8.4m0-8.4l-8.4 8.4M404.3 221.3l8.4 8.4m0-8.4l-8.4 8.4M405.3 138.3l8.4 8.4m0-8.4l-8.4 8.4M405.3 159.3l8.4 8.4m0-8.4l-8.4 8.4M405.3 180.3l8.4 8.4m0-8.4l-8.4 8.4M405.3 201.3l8.4 8.4m0-8.4l-8.4 8.4M406.3 180.3l8.4 8.4m0-8.4l-8.4 8.4M407.3 180.3l8.4 8.4m0-8.4l-8.4 8.4M407.3 221.3l8.4 8.4m0-8.4l-8.4 8.4M408.3 180.3l8.4 8.4m0-8.4l-8.4 8.4M408.3 201.3l8.4 8.4m0-8.4l-8.4 8.4M408.3 221.3l8.4 8.4m0-8.4l-8.4 8.4M409.3 180.3l8.4 8.4m0-8.4l-8.4 8.4M409.3 201.3l8.4 8.4m0-8.4l-8.4 8.4M410.3 180.3l8.4 8.4m0-8.4l-8.4 8.4M410.3 201.3l8.4 8.4m0-8.4l-8.4 8.4M411.3 180.3l8.4 8.4m0-8.4l-8.4 8.4M411.3 201.3l8.4 8.4m0-8.4l-8.4 8.4M412.3 180.3l8.4 8.4m0-8.4l-8.4 8.4M412.3 201.3l8.4 8.4m0-8.4l-8.4 8.4M413.3 180.3l8.4 8.4m0-8.4l-8.4 8.4M413.3 201.3l8.4 8.4m0-8.4l-8.4 8.4M414.3 159.3l8.4 8.4m0-8.4l-8.4 8.4M414.3 180.3l8.4 8.4m0-8.4l-8.4 8.4M414.3 201.3l8.4 8.4m0-8.4l-8.4 8.4M415.3 180.3l8.4 8.4m0-8.4l-8.4 8.4M415.3 201.3l8.4 8.4m0-8.4l-8.4 8.4M415.3 221.3l8.4 8.4m0-8.4l-8.4 8.4M416.3 180.3l8.4 8.4m0-8.4l-8.4 8.4M416.3 201.3l8.4 8.4m0-8.4l-8.4 8.4M416.3 221.3l8.4 8.4m0-8.4l-8.4 8.4M416.3 242.3l8.4 8.4m0-8.4l-8.4 8.4M417.3 180.3l8.4 8.4m0-8.4l-8.4 8.4M417.3 201.3l8.4 8.4m0-8.4l-8.4 8.4M417.3 221.3l8.4 8.4m0-8.4l-8.4 8.4M417.3 242.3l8.4 8.4m0-8.4l-8.4 8.4M418.3 180.3l8.4 8.4m0-8.4l-8.4 8.4M418.3 201.3l8.4 8.4m0-8.4l-8.4 8.4M418.3 221.3l8.4 8.4m0-8.4l-8.4 8.4M419.3 180.3l8.4 8.4m0-8.4l-8.4 8.4M419.3 201.3l8.4 8.4m0-8.4l-8.4 8.4M419.3 221.3l8.4 8.4m0-8.4l-8.4 8.4M420.3 180.3l8.4 8.4m0-8.4l-8.4 8.4M420.3 201.3l8.4 8.4m0-8.4l-8.4 8.4M420.3 221.3l8.4 8.4m0-8.4l-8.4 8.4M421.3 180.3l8.4 8.4m0-8.4l-8.4 8.4M421.3 201.3l8.4 8.4m0-8.4l-8.4 8.4M421.3 221.3l8.4 8.4m0-8.4l-8.4 8.4M422.3 180.3l8.4 8.4m0-8.4l-8.4 8.4M422.3 201.3l8.4 8.4m0-8.4l-8.4 8.4M422.3 221.3l8.4 8.4m0-8.4l-8.4 8.4M423.3 180.3l8.4 8.4m0-8.4l-8.4 8.4M423.3 201.3l8.4 8.4m0-8.4l-8.4 8.4M424.3 180.3l8.4 8.4m0-8.4l-8.4 8.4M424.3 201.3l8.4 8.4m0-8.4l-8.4 8.4M425.3 138.3l8.4 8.4m0-8.4l-8.4 8.4M425.3 159.3l8.4 8.4m0-8.4l-8.4 8.4M425.3 180.3l8.4 8.4m0-8.4l-8.4 8.4M426.3 180.3l8.4 8.4m0-8.4l-8.4 8.4M426.3 201.3l8.4 8.4m0-8.4l-8.4 8.4M426.3 221.3l8.4 8.4m0-8.4l-8.4 8.4M427.3 201.3l8.4 8.4m0-8.4l-8.4 8.4M427.3 221.3l8.4 8.4m0-8.4l-8.4 8.4M428.3 180.3l8.4 8.4m0-8.4l-8.4 8.4M428.3 201.3l8.4 8.4m0-8.4l-8.4 8.4M428.3 221.3l8.4 8.4m0-8.4l-8.4 8.4M429.3 180.3l8.4 8.4m0-8.4l-8.4 8.4M429.3 221.3l8.4 8.4m0-8.4l-8.4 8.4M430.3 180.3l8.4 8.4m0-8.4l-8.4 8.4M430.3 221.3l8.4 8.4m0-8.4l-8.4 8.4M431.3 118.3l8.4 8.4m0-8.4l-8.4 8.4M431.3 159.3l8.4 8.4m0-8.4l-8.4 8.4M431.3 180.3l8.4 8.4m0-8.4l-8.4 8.4M431.3 221.3l8.4 8.4m0-8.4l-8.4 8.4M432.3 138.3l8.4 8.4m0-8.4l-8.4 8.4M432.3 180.3l8.4 8.4m0-8.4l-8.4 8.4M432.3 221.3l8.4 8.4m0-8.4l-8.4 8.4M433.3 180.3l8.4 8.4m0-8.4l-8.4 8.4M433.3 201.3l8.4 8.4m0-8.4l-8.4 8.4M433.3 221.3l8.4 8.4m0-8.4l-8.4 8.4M434.3 180.3l8.4 8.4m0-8.4l-8.4 8.4M434.3 201.3l8.4 8.4m0-8.4l-8.4 8.4M434.3 221.3l8.4 8.4m0-8.4l-8.4 8.4M435.3 180.3l8.4 8.4m0-8.4l-8.4 8.4M435.3 221.3l8.4 8.4m0-8.4l-8.4 8.4M436.3 180.3l8.4 8.4m0-8.4l-8.4 8.4M436.3 201.3l8.4 8.4m0-8.4l-8.4 8.4M437.3 180.3l8.4 8.4m0-8.4l-8.4 8.4M437.3 201.3l8.4 8.4m0-8.4l-8.4 8.4M437.3 221.3l8.4 8.4m0-8.4l-8.4 8.4M438.3 159.3l8.4 8.4m0-8.4l-8.4 8.4M438.3 180.3l8.4 8.4m0-8.4l-8.4 8.4M438.3 221.3l8.4 8.4m0-8.4l-8.4 8.4M439.3 180.3l8.4 8.4m0-8.4l-8.4 8.4M439.3 201.3l8.4 8.4m0-8.4l-8.4 8.4M439.3 263.3l8.4 8.4m0-8.4l-8.4 8.4M440.3 180.3l8.4 8.4m0-8.4l-8.4 8.4M440.3 201.3l8.4 8.4m0-8.4l-8.4 8.4M441.3 180.3l8.4 8.4m0-8.4l-8.4 8.4M441.3 201.3l8.4 8.4m0-8.4l-8.4 8.4M441.3 221.3l8.4 8.4m0-8.4l-8.4 8.4M442.3 159.3l8.4 8.4m0-8.4l-8.4 8.4M442.3 201.3l8.4 8.4m0-8.4l-8.4 8.4M442.3 221.3l8.4 8.4m0-8.4l-8.4 8.4M443.3 180.3l8.4 8.4m0-8.4l-8.4 8.4M443.3 201.3l8.4 8.4m0-8.4l-8.4 8.4M444.3 201.3l8.4 8.4m0-8.4l-8.4 8.4M444.3 221.3l8.4 8.4m0-8.4l-8.4 8.4M445.3 180.3l8.4 8.4m0-8.4l-8.4 8.4M445.3 221.3l8.4 8.4m0-8.4l-8.4 8.4M445.3 242.3l8.4 8.4m0-8.4l-8.4 8.4M446.3 180.3l8.4 8.4m0-8.4l-8.4 8.4M446.3 201.3l8.4 8.4m0-8.4l-8.4 8.4M447.3 159.3l8.4 8.4m0-8.4l-8.4 8.4M447.3 180.3l8.4 8.4m0-8.4l-8.4 8.4M447.3 201.3l8.4 8.4m0-8.4l-8.4 8.4M448.3 180.3l8.4 8.4m0-8.4l-8.4 8.4M448.3 221.3l8.4 8.4m0-8.4l-8.4 8.4M449.3 180.3l8.4 8.4m0-8.4l-8.4 8.4M449.3 201.3l8.4 8.4m0-8.4l-8.4 8.4M449.3 221.3l8.4 8.4m0-8.4l-8.4 8.4M450.3 180.3l8.4 8.4m0-8.4l-8.4 8.4M450.3 221.3l8.4 8.4m0-8.4l-8.4 8.4M451.3 180.3l8.4 8.4m0-8.4l-8.4 8.4M451.3 201.3l8.4 8.4m0-8.4l-8.4 8.4M451.3 242.3l8.4 8.4m0-8.4l-8.4 8.4M452.3 138.3l8.4 8.4m0-8.4l-8.4 8.4M452.3 159.3l8.4 8.4m0-8.4l-8.4 8.4M452.3 180.3l8.4 8.4m0-8.4l-8.4 8.4M453.3 180.3l8.4 8.4m0-8.4l-8.4 8.4M453.3 201.3l8.4 8.4m0-8.4l-8.4 8.4M453.3 221.3l8.4 8.4m0-8.4l-8.4 8.4M454.3 201.3l8.4 8.4m0-8.4l-8.4 8.4M454.3 221.3l8.4 8.4m0-8.4l-8.4 8.4M455.3 180.3l8.4 8.4m0-8.4l-8.4 8.4M455.3 201.3l8.4 8.4m0-8.4l-8.4 8.4M456.3 180.3l8.4 8.4m0-8.4l-8.4 8.4M456.3 201.3l8.4 8.4m0-8.4l-8.4 8.4M456.3 221.3l8.4 8.4m0-8.4l-8.4 8.4M457.3 180.3l8.4 8.4m0-8.4l-8.4 8.4M457.3 201.3l8.4 8.4m0-8.4l-8.4 8.4M457.3 242.3l8.4 8.4m0-8.4l-8.4 8.4M458.3 201.3l8.4 8.4m0-8.4l-8.4 8.4M458.3 221.3l8.4 8.4m0-8.4l-8.4 8.4M458.3 242.3l8.4 8.4m0-8.4l-8.4 8.4M459.3 138.3l8.4 8.4m0-8.4l-8.4 8.4M459.3 159.3l8.4 8.4m0-8.4l-8.4 8.4M459.3 201.3l8.4 8.4m0-8.4l-8.4 8.4M459.3 242.3l8.4 8.4m0-8.4l-8.4 8.4M460.3 180.3l8.4 8.4m0-8.4l-8.4 8.4M460.3 201.3l8.4 8.4m0-8.4l-8.4 8.4M460.3 221.3l8.4 8.4m0-8.4l-8.4 8.4M460.3 263.3l8.4 8.4m0-8.4l-8.4 8.4M461.3 242.3l8.4 8.4m0-8.4l-8.4 8.4M461.3 263.3l8.4 8.4m0-8.4l-8.4 8.4M462.3 242.3l8.4 8.4m0-8.4l-8.4 8.4M462.3 263.3l8.4 8.4m0-8.4l-8.4 8.4M463.3 242.3l8.4 8.4m0-8.4l-8.4 8.4M463.3 263.3l8.4 8.4m0-8.4l-8.4 8.4M464.3 242.3l8.4 8.4m0-8.4l-8.4 8.4M465.3 221.3l8.4 8.4m0-8.4l-8.4 8.4M465.3 263.3l8.4 8.4m0-8.4l-8.4 8.4M466.3 242.3l8.4 8.4m0-8.4l-8.4 8.4M466.3 284.3l8.4 8.4m0-8.4l-8.4 8.4M466.3 305.3l8.4 8.4m0-8.4l-8.4 8.4M467.3 242.3l8.4 8.4m0-8.4l-8.4 8.4M468.3 221.3l8.4 8.4m0-8.4l-8.4 8.4M468.3 242.3l8.4 8.4m0-8.4l-8.4 8.4M469.3 221.3l8.4 8.4m0-8.4l-8.4 8.4M469.3 242.3l8.4 8.4m0-8.4l-8.4 8.4M470.3 242.3l8.4 8.4m0-8.4l-8.4 8.4M470.3 263.3l8.4 8.4m0-8.4l-8.4 8.4M471.3 221.3l8.4 8.4m0-8.4l-8.4 8.4M471.3 242.3l8.4 8.4m0-8.4l-8.4 8.4M471.3 263.3l8.4 8.4m0-8.4l-8.4 8.4M472.3 221.3l8.4 8.4m0-8.4l-8.4 8.4M472.3 242.3l8.4 8.4m0-8.4l-8.4 8.4M473.3 180.3l8.4 8.4m0-8.4l-8.4 8.4M473.3 242.3l8.4 8.4m0-8.4l-8.4 8.4M473.3 263.3l8.4 8.4m0-8.4l-8.4 8.4M473.3 305.3l8.4 8.4m0-8.4l-8.4 8.4M474.3 242.3l8.4 8.4m0-8.4l-8.4 8.4M474.3 263.3l8.4 8.4m0-8.4l-8.4 8.4M475.3 221.3l8.4 8.4m0-8.4l-8.4 8.4M475.3 242.3l8.4 8.4m0-8.4l-8.4 8.4M476.3 242.3l8.4 8.4m0-8.4l-8.4 8.4M476.3 263.3l8.4 8.4m0-8.4l-8.4 8.4M477.3 242.3l8.4 8.4m0-8.4l-8.4 8.4M477.3 263.3l8.4 8.4m0-8.4l-8.4 8.4M478.3 221.3l8.4 8.4m0-8.4l-8.4 8.4M478.3 242.3l8.4 8.4m0-8.4l-8.4 8.4M479.3 221.3l8.4 8.4m0-8.4l-8.4 8.4M479.3 242.3l8.4 8.4m0-8.4l-8.4 8.4M479.3 263.3l8.4 8.4m0-8.4l-8.4 8.4M480.3 159.3l8.4 8.4m0-8.4l-8.4 8.4M480.3 242.3l8.4 8.4m0-8.4l-8.4 8.4M480.3 263.3l8.4 8.4m0-8.4l-8.4 8.4M481.3 221.3l8.4 8.4m0-8.4l-8.4 8.4M481.3 242.3l8.4 8.4m0-8.4l-8.4 8.4M481.3 263.3l8.4 8.4m0-8.4l-8.4 8.4M481.3 284.3l8.4 8.4m0-8.4l-8.4 8.4M482.3 242.3l8.4 8.4m0-8.4l-8.4 8.4M482.3 263.3l8.4 8.4m0-8.4l-8.4 8.4M483.3 221.3l8.4 8.4m0-8.4l-8.4 8.4M483.3 242.3l8.4 8.4m0-8.4l-8.4 8.4M484.3 242.3l8.4 8.4m0-8.4l-8.4 8.4M485.3 221.3l8.4 8.4m0-8.4l-8.4 8.4M485.3 242.3l8.4 8.4m0-8.4l-8.4 8.4M485.3 263.3l8.4 8.4m0-8.4l-8.4 8.4M486.3 221.3l8.4 8.4m0-8.4l-8.4 8.4M486.3 284.3l8.4 8.4m0-8.4l-8.4 8.4M487.3 201.3l8.4 8.4m0-8.4l-8.4 8.4M487.3 221.3l8.4 8.4m0-8.4l-8.4 8.4M487.3 242.3l8.4 8.4m0-8.4l-8.4 8.4M488.3 221.3l8.4 8.4m0-8.4l-8.4 8.4M488.3 242.3l8.4 8.4m0-8.4l-8.4 8.4M489.3 221.3l8.4 8.4m0-8.4l-8.4 8.4M489.3 242.3l8.4 8.4m0-8.4l-8.4 8.4M490.3 242.3l8.4 8.4m0-8.4l-8.4 8.4M491.3 242.3l8.4 8.4m0-8.4l-8.4 8.4M492.3 242.3l8.4 8.4m0-8.4l-8.4 8.4M492.3 263.3l8.4 8.4m0-8.4l-8.4 8.4M492.3 284.3l8.4 8.4m0-8.4l-8.4 8.4M493.3 242.3l8.4 8.4m0-8.4l-8.4 8.4M493.3 263.3l8.4 8.4m0-8.4l-8.4 8.4M493.3 284.3l8.4 8.4m0-8.4l-8.4 8.4M493.3 305.3l8.4 8.4m0-8.4l-8.4 8.4M494.3 201.3l8.4 8.4m0-8.4l-8.4 8.4M494.3 242.3l8.4 8.4m0-8.4l-8.4 8.4M494.3 263.3l8.4 8.4m0-8.4l-8.4 8.4M495.3 221.3l8.4 8.4m0-8.4l-8.4 8.4M495.3 242.3l8.4 8.4m0-8.4l-8.4 8.4M495.3 263.3l8.4 8.4m0-8.4l-8.4 8.4M496.3 221.3l8.4 8.4m0-8.4l-8.4 8.4M496.3 242.3l8.4 8.4m0-8.4l-8.4 8.4M496.3 284.3l8.4 8.4m0-8.4l-8.4 8.4M497.3 221.3l8.4 8.4m0-8.4l-8.4 8.4M497.3 242.3l8.4 8.4m0-8.4l-8.4 8.4M497.3 284.3l8.4 8.4m0-8.4l-8.4 8.4M498.3 242.3l8.4 8.4m0-8.4l-8.4 8.4M498.3 284.3l8.4 8.4m0-8.4l-8.4 8.4M499.3 242.3l8.4 8.4m0-8.4l-8.4 8.4M499.3 284.3l8.4 8.4m0-8.4l-8.4 8.4M500.3 242.3l8.4 8.4m0-8.4l-8.4 8.4M500.3 263.3l8.4 8.4m0-8.4l-8.4 8.4M500.3 284.3l8.4 8.4m0-8.4l-8.4 8.4M500.3 305.3l8.4 8.4m0-8.4l-8.4 8.4M501.3 242.3l8.4 8.4m0-8.4l-8.4 8.4M501.3 263.3l8.4 8.4m0-8.4l-8.4 8.4M502.3 242.3l8.4 8.4m0-8.4l-8.4 8.4M503.3 221.3l8.4 8.4m0-8.4l-8.4 8.4M503.3 242.3l8.4 8.4m0-8.4l-8.4 8.4M504.3 201.3l8.4 8.4m0-8.4l-8.4 8.4M504.3 242.3l8.4 8.4m0-8.4l-8.4 8.4M504.3 263.3l8.4 8.4m0-8.4l-8.4 8.4M505.3 242.3l8.4 8.4m0-8.4l-8.4 8.4M505.3 263.3l8.4 8.4m0-8.4l-8.4 8.4M506.3 242.3l8.4 8.4m0-8.4l-8.4 8.4M506.3 263.3l8.4 8.4m0-8.4l-8.4 8.4M507.3 263.3l8.4 8.4m0-8.4l-8.4 8.4M507.3 284.3l8.4 8.4m0-8.4l-8.4 8.4M508.3 242.3l8.4 8.4m0-8.4l-8.4 8.4M508.3 284.3l8.4 8.4m0-8.4l-8.4 8.4M509.3 221.3l8.4 8.4m0-8.4l-8.4 8.4M509.3 242.3l8.4 8.4m0-8.4l-8.4 8.4M509.3 284.3l8.4 8.4m0-8.4l-8.4 8.4M510.3 242.3l8.4 8.4m0-8.4l-8.4 8.4M510.3 263.3l8.4 8.4m0-8.4l-8.4 8.4M510.3 284.3l8.4 8.4m0-8.4l-8.4 8.4M511.3 242.3l8.4 8.4m0-8.4l-8.4 8.4M511.3 263.3l8.4 8.4m0-8.4l-8.4 8.4M511.3 284.3l8.4 8.4m0-8.4l-8.4 8.4M511.3 305.3l8.4 8.4m0-8.4l-8.4 8.4M512.3 242.3l8.4 8.4m0-8.4l-8.4 8.4M512.3 284.3l8.4 8.4m0-8.4l-8.4 8.4M513.3 221.3l8.4 8.4m0-8.4l-8.4 8.4M513.3 284.3l8.4 8.4m0-8.4l-8.4 8.4M514.3 221.3l8.4 8.4m0-8.4l-8.4 8.4M514.3 263.3l8.4 8.4m0-8.4l-8.4 8.4M514.3 284.3l8.4 8.4m0-8.4l-8.4 8.4M515.3 221.3l8.4 8.4m0-8.4l-8.4 8.4M515.3 263.3l8.4 8.4m0-8.4l-8.4 8.4M515.3 284.3l8.4 8.4m0-8.4l-8.4 8.4M516.3 221.3l8.4 8.4m0-8.4l-8.4 8.4M516.3 263.3l8.4 8.4m0-8.4l-8.4 8.4M517.3 242.3l8.4 8.4m0-8.4l-8.4 8.4M517.3 263.3l8.4 8.4m0-8.4l-8.4 8.4M517.3 305.3l8.4 8.4m0-8.4l-8.4 8.4M518.3 221.3l8.4 8.4m0-8.4l-8.4 8.4M518.3 242.3l8.4 8.4m0-8.4l-8.4 8.4M519.3 242.3l8.4 8.4m0-8.4l-8.4 8.4M520.3 221.3l8.4 8.4m0-8.4l-8.4 8.4M520.3 242.3l8.4 8.4m0-8.4l-8.4 8.4M520.3 263.3l8.4 8.4m0-8.4l-8.4 8.4M521.3 242.3l8.4 8.4m0-8.4l-8.4 8.4M521.3 263.3l8.4 8.4m0-8.4l-8.4 8.4M522.3 201.3l8.4 8.4m0-8.4l-8.4 8.4M522.3 221.3l8.4 8.4m0-8.4l-8.4 8.4M522.3 242.3l8.4 8.4m0-8.4l-8.4 8.4M523.3 221.3l8.4 8.4m0-8.4l-8.4 8.4M523.3 242.3l8.4 8.4m0-8.4l-8.4 8.4M523.3 284.3l8.4 8.4m0-8.4l-8.4 8.4M524.3 242.3l8.4 8.4m0-8.4l-8.4 8.4M524.3 263.3l8.4 8.4m0-8.4l-8.4 8.4M525.3 221.3l8.4 8.4m0-8.4l-8.4 8.4M525.3 242.3l8.4 8.4m0-8.4l-8.4 8.4M525.3 284.3l8.4 8.4m0-8.4l-8.4 8.4M526.3 221.3l8.4 8.4m0-8.4l-8.4 8.4M526.3 242.3l8.4 8.4m0-8.4l-8.4 8.4M526.3 263.3l8.4 8.4m0-8.4l-8.4 8.4M527.3 221.3l8.4 8.4m0-8.4l-8.4 8.4M527.3 242.3l8.4 8.4m0-8.4l-8.4 8.4M527.3 263.3l8.4 8.4m0-8.4l-8.4 8.4M527.3 284.3l8.4 8.4m0-8.4l-8.4 8.4M528.3 263.3l8.4 8.4m0-8.4l-8.4 8.4M528.3 284.3l8.4 8.4m0-8.4l-8.4 8.4M529.3 221.3l8.4 8.4m0-8.4l-8.4 8.4M529.3 242.3l8.4 8.4m0-8.4l-8.4 8.4M529.3 263.3l8.4 8.4m0-8.4l-8.4 8.4M530.3 180.3l8.4 8.4m0-8.4l-8.4 8.4M530.3 221.3l8.4 8.4m0-8.4l-8.4 8.4M530.3 242.3l8.4 8.4m0-8.4l-8.4 8.4M531.3 242.3l8.4 8.4m0-8.4l-8.4 8.4M531.3 263.3l8.4 8.4m0-8.4l-8.4 8.4M532.3 242.3l8.4 8.4m0-8.4l-8.4 8.4M532.3 263.3l8.4 8.4m0-8.4l-8.4 8.4M532.3 284.3l8.4 8.4m0-8.4l-8.4 8.4M533.3 221.3l8.4 8.4m0-8.4l-8.4 8.4M533.3 242.3l8.4 8.4m0-8.4l-8.4 8.4M533.3 263.3l8.4 8.4m0-8.4l-8.4 8.4M533.3 284.3l8.4 8.4m0-8.4l-8.4 8.4M534.3 242.3l8.4 8.4m0-8.4l-8.4 8.4M534.3 263.3l8.4 8.4m0-8.4l-8.4 8.4M535.3 242.3l8.4 8.4m0-8.4l-8.4 8.4M535.3 263.3l8.4 8.4m0-8.4l-8.4 8.4M535.3 284.3l8.4 8.4m0-8.4l-8.4 8.4M536.3 242.3l8.4 8.4m0-8.4l-8.4 8.4M537.3 242.3l8.4 8.4m0-8.4l-8.4 8.4M537.3 263.3l8.4 8.4m0-8.4l-8.4 8.4M538.3 221.3l8.4 8.4m0-8.4l-8.4 8.4M538.3 242.3l8.4 8.4m0-8.4l-8.4 8.4M539.3 242.3l8.4 8.4m0-8.4l-8.4 8.4M539.3 263.3l8.4 8.4m0-8.4l-8.4 8.4M540.3 242.3l8.4 8.4m0-8.4l-8.4 8.4M540.3 263.3l8.4 8.4m0-8.4l-8.4 8.4M541.3 242.3l8.4 8.4m0-8.4l-8.4 8.4M541.3 263.3l8.4 8.4m0-8.4l-8.4 8.4M542.3 263.3l8.4 8.4m0-8.4l-8.4 8.4M543.3 221.3l8.4 8.4m0-8.4l-8.4 8.4M543.3 263.3l8.4 8.4m0-8.4l-8.4 8.4M544.3 221.3l8.4 8.4m0-8.4l-8.4 8.4M544.3 263.3l8.4 8.4m0-8.4l-8.4 8.4M545.3 201.3l8.4 8.4m0-8.4l-8.4 8.4M545.3 221.3l8.4 8.4m0-8.4l-8.4 8.4M545.3 242.3l8.4 8.4m0-8.4l-8.4 8.4M546.3 221.3l8.4 8.4m0-8.4l-8.4 8.4M546.3 242.3l8.4 8.4m0-8.4l-8.4 8.4M546.3 263.3l8.4 8.4m0-8.4l-8.4 8.4M547.3 242.3l8.4 8.4m0-8.4l-8.4 8.4M547.3 263.3l8.4 8.4m0-8.4l-8.4 8.4M548.3 221.3l8.4 8.4m0-8.4l-8.4 8.4M548.3 242.3l8.4 8.4m0-8.4l-8.4 8.4M549.3 242.3l8.4 8.4m0-8.4l-8.4 8.4M550.3 242.3l8.4 8.4m0-8.4l-8.4 8.4M550.3 263.3l8.4 8.4m0-8.4l-8.4 8.4M550.3 284.3l8.4 8.4m0-8.4l-8.4 8.4M551.3 221.3l8.4 8.4m0-8.4l-8.4 8.4M551.3 242.3l8.4 8.4m0-8.4l-8.4 8.4M552.3 242.3l8.4 8.4m0-8.4l-8.4 8.4M553.3 242.3l8.4 8.4m0-8.4l-8.4 8.4M553.3 263.3l8.4 8.4m0-8.4l-8.4 8.4M554.3 221.3l8.4 8.4m0-8.4l-8.4 8.4M554.3 242.3l8.4 8.4m0-8.4l-8.4 8.4M554.3 263.3l8.4 8.4m0-8.4l-8.4 8.4M555.3 221.3l8.4 8.4m0-8.4l-8.4 8.4M555.3 263.3l8.4 8.4m0-8.4l-8.4 8.4M556.3 221.3l8.4 8.4m0-8.4l-8.4 8.4M556.3 242.3l8.4 8.4m0-8.4l-8.4 8.4M556.3 263.3l8.4 8.4m0-8.4l-8.4 8.4M557.3 242.3l8.4 8.4m0-8.4l-8.4 8.4M557.3 263.3l8.4 8.4m0-8.4l-8.4 8.4M558.3 221.3l8.4 8.4m0-8.4l-8.4 8.4M558.3 242.3l8.4 8.4m0-8.4l-8.4 8.4M558.3 263.3l8.4 8.4m0-8.4l-8.4 8.4M559.3 242.3l8.4 8.4m0-8.4l-8.4 8.4M559.3 263.3l8.4 8.4m0-8.4l-8.4 8.4M560.3 221.3l8.4 8.4m0-8.4l-8.4 8.4M560.3 242.3l8.4 8.4m0-8.4l-8.4 8.4M561.3 242.3l8.4 8.4m0-8.4l-8.4 8.4M561.3 263.3l8.4 8.4m0-8.4l-8.4 8.4M562.3 221.3l8.4 8.4m0-8.4l-8.4 8.4M562.3 242.3l8.4 8.4m0-8.4l-8.4 8.4M563.3 221.3l8.4 8.4m0-8.4l-8.4 8.4M563.3 242.3l8.4 8.4m0-8.4l-8.4 8.4M563.3 263.3l8.4 8.4m0-8.4l-8.4 8.4M563.3 284.3l8.4 8.4m0-8.4l-8.4 8.4M564.3 221.3l8.4 8.4m0-8.4l-8.4 8.4M564.3 242.3l8.4 8.4m0-8.4l-8.4 8.4M564.3 263.3l8.4 8.4m0-8.4l-8.4 8.4M564.3 284.3l8.4 8.4m0-8.4l-8.4 8.4M565.3 242.3l8.4 8.4m0-8.4l-8.4 8.4M565.3 263.3l8.4 8.4m0-8.4l-8.4 8.4M565.3 284.3l8.4 8.4m0-8.4l-8.4 8.4M566.3 242.3l8.4 8.4m0-8.4l-8.4 8.4M566.3 263.3l8.4 8.4m0-8.4l-8.4 8.4M567.3 242.3l8.4 8.4m0-8.4l-8.4 8.4M567.3 263.3l8.4 8.4m0-8.4l-8.4 8.4M568.3 201.3l8.4 8.4m0-8.4l-8.4 8.4M568.3 242.3l8.4 8.4m0-8.4l-8.4 8.4M568.3 284.3l8.4 8.4m0-8.4l-8.4 8.4M569.3 221.3l8.4 8.4m0-8.4l-8.4 8.4M569.3 242.3l8.4 8.4m0-8.4l-8.4 8.4M570.3 221.3l8.4 8.4m0-8.4l-8.4 8.4M570.3 242.3l8.4 8.4m0-8.4l-8.4 8.4M570.3 263.3l8.4 8.4m0-8.4l-8.4 8.4M570.3 284.3l8.4 8.4m0-8.4l-8.4 8.4M571.3 221.3l8.4 8.4m0-8.4l-8.4 8.4M571.3 242.3l8.4 8.4m0-8.4l-8.4 8.4M571.3 263.3l8.4 8.4m0-8.4l-8.4 8.4M572.3 221.3l8.4 8.4m0-8.4l-8.4 8.4M572.3 242.3l8.4 8.4m0-8.4l-8.4 8.4M572.3 263.3l8.4 8.4m0-8.4l-8.4 8.4M573.3 242.3l8.4 8.4m0-8.4l-8.4 8.4M573.3 263.3l8.4 8.4m0-8.4l-8.4 8.4M574.3 201.3l8.4 8.4m0-8.4l-8.4 8.4M574.3 221.3l8.4 8.4m0-8.4l-8.4 8.4M574.3 242.3l8.4 8.4m0-8.4l-8.4 8.4M574.3 284.3l8.4 8.4m0-8.4l-8.4 8.4M575.3 221.3l8.4 8.4m0-8.4l-8.4 8.4M575.3 242.3l8.4 8.4m0-8.4l-8.4 8.4M575.3 284.3l8.4 8.4m0-8.4l-8.4 8.4M576.3 242.3l8.4 8.4m0-8.4l-8.4 8.4M576.3 284.3l8.4 8.4m0-8.4l-8.4 8.4M577.3 221.3l8.4 8.4m0-8.4l-8.4 8.4M577.3 242.3l8.4 8.4m0-8.4l-8.4 8.4M578.3 221.3l8.4 8.4m0-8.4l-8.4 8.4M578.3 242.3l8.4 8.4m0-8.4l-8.4 8.4M578.3 284.3l8.4 8.4m0-8.4l-8.4 8.4M579.3 242.3l8.4 8.4m0-8.4l-8.4 8.4M580.3 201.3l8.4 8.4m0-8.4l-8.4 8.4M580.3 242.3l8.4 8.4m0-8.4l-8.4 8.4M580.3 284.3l8.4 8.4m0-8.4l-8.4 8.4M581.3 221.3l8.4 8.4m0-8.4l-8.4 8.4M581.3 242.3l8.4 8.4m0-8.4l-8.4 8.4M581.3 284.3l8.4 8.4m0-8.4l-8.4 8.4M582.3 221.3l8.4 8.4m0-8.4l-8.4 8.4M582.3 242.3l8.4 8.4m0-8.4l-8.4 8.4M582.3 263.3l8.4 8.4m0-8.4l-8.4 8.4M582.3 284.3l8.4 8.4m0-8.4l-8.4 8.4M583.3 180.3l8.4 8.4m0-8.4l-8.4 8.4M583.3 221.3l8.4 8.4m0-8.4l-8.4 8.4M583.3 242.3l8.4 8.4m0-8.4l-8.4 8.4M584.3 242.3l8.4 8.4m0-8.4l-8.4 8.4M584.3 284.3l8.4 8.4m0-8.4l-8.4 8.4M585.3 221.3l8.4 8.4m0-8.4l-8.4 8.4M585.3 242.3l8.4 8.4m0-8.4l-8.4 8.4M586.3 242.3l8.4 8.4m0-8.4l-8.4 8.4M586.3 263.3l8.4 8.4m0-8.4l-8.4 8.4M586.3 284.3l8.4 8.4m0-8.4l-8.4 8.4M587.3 221.3l8.4 8.4m0-8.4l-8.4 8.4M587.3 242.3l8.4 8.4m0-8.4l-8.4 8.4M588.3 221.3l8.4 8.4m0-8.4l-8.4 8.4M588.3 242.3l8.4 8.4m0-8.4l-8.4 8.4M589.3 221.3l8.4 8.4m0-8.4l-8.4 8.4M589.3 242.3l8.4 8.4m0-8.4l-8.4 8.4M589.3 284.3l8.4 8.4m0-8.4l-8.4 8.4M590.3 221.3l8.4 8.4m0-8.4l-8.4 8.4M590.3 242.3l8.4 8.4m0-8.4l-8.4 8.4M590.3 263.3l8.4 8.4m0-8.4l-8.4 8.4M591.3 201.3l8.4 8.4m0-8.4l-8.4 8.4M591.3 221.3l8.4 8.4m0-8.4l-8.4 8.4M591.3 242.3l8.4 8.4m0-8.4l-8.4 8.4M591.3 263.3l8.4 8.4m0-8.4l-8.4 8.4M592.3 242.3l8.4 8.4m0-8.4l-8.4 8.4M592.3 263.3l8.4 8.4m0-8.4l-8.4 8.4M593.3 221.3l8.4 8.4m0-8.4l-8.4 8.4M593.3 263.3l8.4 8.4m0-8.4l-8.4 8.4M594.3 221.3l8.4 8.4m0-8.4l-8.4 8.4M594.3 242.3l8.4 8.4m0-8.4l-8.4 8.4M594.3 263.3l8.4 8.4m0-8.4l-8.4 8.4M595.3 221.3l8.4 8.4m0-8.4l-8.4 8.4M595.3 242.3l8.4 8.4m0-8.4l-8.4 8.4M595.3 263.3l8.4 8.4m0-8.4l-8.4 8.4M596.3 242.3l8.4 8.4m0-8.4l-8.4 8.4M596.3 263.3l8.4 8.4m0-8.4l-8.4 8.4M596.3 284.3l8.4 8.4m0-8.4l-8.4 8.4M597.3 242.3l8.4 8.4m0-8.4l-8.4 8.4M597.3 263.3l8.4 8.4m0-8.4l-8.4 8.4M597.3 284.3l8.4 8.4m0-8.4l-8.4 8.4M598.3 221.3l8.4 8.4m0-8.4l-8.4 8.4M598.3 242.3l8.4 8.4m0-8.4l-8.4 8.4M598.3 263.3l8.4 8.4m0-8.4l-8.4 8.4M599.3 242.3l8.4 8.4m0-8.4l-8.4 8.4M600.3 242.3l8.4 8.4m0-8.4l-8.4 8.4M600.3 284.3l8.4 8.4m0-8.4l-8.4 8.4M601.3 201.3l8.4 8.4m0-8.4l-8.4 8.4M601.3 242.3l8.4 8.4m0-8.4l-8.4 8.4M601.3 263.3l8.4 8.4m0-8.4l-8.4 8.4M601.3 284.3l8.4 8.4m0-8.4l-8.4 8.4M602.3 242.3l8.4 8.4m0-8.4l-8.4 8.4M602.3 263.3l8.4 8.4m0-8.4l-8.4 8.4M603.3 180.3l8.4 8.4m0-8.4l-8.4 8.4M603.3 221.3l8.4 8.4m0-8.4l-8.4 8.4M603.3 242.3l8.4 8.4m0-8.4l-8.4 8.4M603.3 263.3l8.4 8.4m0-8.4l-8.4 8.4M604.3 242.3l8.4 8.4m0-8.4l-8.4 8.4M604.3 263.3l8.4 8.4m0-8.4l-8.4 8.4M605.3 242.3l8.4 8.4m0-8.4l-8.4 8.4M605.3 263.3l8.4 8.4m0-8.4l-8.4 8.4M606.3 242.3l8.4 8.4m0-8.4l-8.4 8.4M606.3 263.3l8.4 8.4m0-8.4l-8.4 8.4M607.3 263.3l8.4 8.4m0-8.4l-8.4 8.4M607.3 284.3l8.4 8.4m0-8.4l-8.4 8.4M608.3 221.3l8.4 8.4m0-8.4l-8.4 8.4M608.3 242.3l8.4 8.4m0-8.4l-8.4 8.4M608.3 263.3l8.4 8.4m0-8.4l-8.4 8.4M609.3 242.3l8.4 8.4m0-8.4l-8.4 8.4M609.3 263.3l8.4 8.4m0-8.4l-8.4 8.4M610.3 221.3l8.4 8.4m0-8.4l-8.4 8.4M610.3 263.3l8.4 8.4m0-8.4l-8.4 8.4M610.3 284.3l8.4 8.4m0-8.4l-8.4 8.4M611.3 242.3l8.4 8.4m0-8.4l-8.4 8.4M611.3 263.3l8.4 8.4m0-8.4l-8.4 8.4M612.3 221.3l8.4 8.4m0-8.4l-8.4 8.4M612.3 263.3l8.4 8.4m0-8.4l-8.4 8.4M613.3 221.3l8.4 8.4m0-8.4l-8.4 8.4M613.3 263.3l8.4 8.4m0-8.4l-8.4 8.4M614.3 201.3l8.4 8.4m0-8.4l-8.4 8.4M614.3 221.3l8.4 8.4m0-8.4l-8.4 8.4M614.3 263.3l8.4 8.4m0-8.4l-8.4 8.4M615.3 242.3l8.4 8.4m0-8.4l-8.4 8.4M615.3 263.3l8.4 8.4m0-8.4l-8.4 8.4M616.3 242.3l8.4 8.4m0-8.4l-8.4 8.4M616.3 263.3l8.4 8.4m0-8.4l-8.4 8.4M617.3 242.3l8.4 8.4m0-8.4l-8.4 8.4M617.3 284.3l8.4 8.4m0-8.4l-8.4 8.4M618.3 242.3l8.4 8.4m0-8.4l-8.4 8.4M618.3 263.3l8.4 8.4m0-8.4l-8.4 8.4M618.3 284.3l8.4 8.4m0-8.4l-8.4 8.4M619.3 242.3l8.4 8.4m0-8.4l-8.4 8.4M619.3 263.3l8.4 8.4m0-8.4l-8.4 8.4M619.3 284.3l8.4 8.4m0-8.4l-8.4 8.4M620.3 242.3l8.4 8.4m0-8.4l-8.4 8.4M620.3 284.3l8.4 8.4m0-8.4l-8.4 8.4M621.3 221.3l8.4 8.4m0-8.4l-8.4 8.4M621.3 242.3l8.4 8.4m0-8.4l-8.4 8.4M621.3 284.3l8.4 8.4m0-8.4l-8.4 8.4M622.3 221.3l8.4 8.4m0-8.4l-8.4 8.4M622.3 242.3l8.4 8.4m0-8.4l-8.4 8.4M622.3 284.3l8.4 8.4m0-8.4l-8.4 8.4M623.3 221.3l8.4 8.4m0-8.4l-8.4 8.4M623.3 242.3l8.4 8.4m0-8.4l-8.4 8.4M623.3 284.3l8.4 8.4m0-8.4l-8.4 8.4M624.3 201.3l8.4 8.4m0-8.4l-8.4 8.4M624.3 242.3l8.4 8.4m0-8.4l-8.4 8.4M624.3 263.3l8.4 8.4m0-8.4l-8.4 8.4M625.3 242.3l8.4 8.4m0-8.4l-8.4 8.4M625.3 263.3l8.4 8.4m0-8.4l-8.4 8.4M625.3 305.3l8.4 8.4m0-8.4l-8.4 8.4M626.3 242.3l8.4 8.4m0-8.4l-8.4 8.4M627.3 242.3l8.4 8.4m0-8.4l-8.4 8.4M627.3 263.3l8.4 8.4m0-8.4l-8.4 8.4M628.3 221.3l8.4 8.4m0-8.4l-8.4 8.4M628.3 242.3l8.4 8.4m0-8.4l-8.4 8.4M628.3 263.3l8.4 8.4m0-8.4l-8.4 8.4M629.3 242.3l8.4 8.4m0-8.4l-8.4 8.4M629.3 263.3l8.4 8.4m0-8.4l-8.4 8.4M630.3 221.3l8.4 8.4m0-8.4l-8.4 8.4M630.3 242.3l8.4 8.4m0-8.4l-8.4 8.4M630.3 263.3l8.4 8.4m0-8.4l-8.4 8.4M631.3 221.3l8.4 8.4m0-8.4l-8.4 8.4M631.3 242.3l8.4 8.4m0-8.4l-8.4 8.4M631.3 263.3l8.4 8.4m0-8.4l-8.4 8.4M632.3 242.3l8.4 8.4m0-8.4l-8.4 8.4M632.3 263.3l8.4 8.4m0-8.4l-8.4 8.4M633.3 242.3l8.4 8.4m0-8.4l-8.4 8.4M633.3 263.3l8.4 8.4m0-8.4l-8.4 8.4M634.3 242.3l8.4 8.4m0-8.4l-8.4 8.4M634.3 263.3l8.4 8.4m0-8.4l-8.4 8.4M635.3 221.3l8.4 8.4m0-8.4l-8.4 8.4M635.3 242.3l8.4 8.4m0-8.4l-8.4 8.4M636.3 242.3l8.4 8.4m0-8.4l-8.4 8.4M636.3 263.3l8.4 8.4m0-8.4l-8.4 8.4M637.3 221.3l8.4 8.4m0-8.4l-8.4 8.4M637.3 242.3l8.4 8.4m0-8.4l-8.4 8.4M638.3 242.3l8.4 8.4m0-8.4l-8.4 8.4M638.3 263.3l8.4 8.4m0-8.4l-8.4 8.4M639.3 221.3l8.4 8.4m0-8.4l-8.4 8.4M639.3 242.3l8.4 8.4m0-8.4l-8.4 8.4M639.3 263.3l8.4 8.4m0-8.4l-8.4 8.4M639.3 305.3l8.4 8.4m0-8.4l-8.4 8.4M640.3 221.3l8.4 8.4m0-8.4l-8.4 8.4M640.3 242.3l8.4 8.4m0-8.4l-8.4 8.4M641.3 221.3l8.4 8.4m0-8.4l-8.4 8.4M641.3 242.3l8.4 8.4m0-8.4l-8.4 8.4M642.3 242.3l8.4 8.4m0-8.4l-8.4 8.4M642.3 263.3l8.4 8.4m0-8.4l-8.4 8.4M643.3 242.3l8.4 8.4m0-8.4l-8.4 8.4M643.3 263.3l8.4 8.4m0-8.4l-8.4 8.4M644.3 221.3l8.4 8.4m0-8.4l-8.4 8.4M644.3 242.3l8.4 8.4m0-8.4l-8.4 8.4M644.3 263.3l8.4 8.4m0-8.4l-8.4 8.4M645.3 242.3l8.4 8.4m0-8.4l-8.4 8.4M645.3 263.3l8.4 8.4m0-8.4l-8.4 8.4M645.3 305.3l8.4 8.4m0-8.4l-8.4 8.4M646.3 221.3l8.4 8.4m0-8.4l-8.4 8.4M646.3 242.3l8.4 8.4m0-8.4l-8.4 8.4M646.3 263.3l8.4 8.4m0-8.4l-8.4 8.4M647.3 221.3l8.4 8.4m0-8.4l-8.4 8.4M648.3 242.3l8.4 8.4m0-8.4l-8.4 8.4M648.3 263.3l8.4 8.4m0-8.4l-8.4 8.4M648.3 305.3l8.4 8.4m0-8.4l-8.4 8.4M649.3 242.3l8.4 8.4m0-8.4l-8.4 8.4M649.3 284.3l8.4 8.4m0-8.4l-8.4 8.4M650.3 242.3l8.4 8.4m0-8.4l-8.4 8.4M650.3 263.3l8.4 8.4m0-8.4l-8.4 8.4M651.3 221.3l8.4 8.4m0-8.4l-8.4 8.4M651.3 242.3l8.4 8.4m0-8.4l-8.4 8.4M652.3 242.3l8.4 8.4m0-8.4l-8.4 8.4M652.3 263.3l8.4 8.4m0-8.4l-8.4 8.4M653.3 221.3l8.4 8.4m0-8.4l-8.4 8.4M653.3 242.3l8.4 8.4m0-8.4l-8.4 8.4M653.3 263.3l8.4 8.4m0-8.4l-8.4 8.4M654.3 180.3l8.4 8.4m0-8.4l-8.4 8.4M654.3 221.3l8.4 8.4m0-8.4l-8.4 8.4M654.3 242.3l8.4 8.4m0-8.4l-8.4 8.4M655.3 242.3l8.4 8.4m0-8.4l-8.4 8.4M655.3 263.3l8.4 8.4m0-8.4l-8.4 8.4M656.3 242.3l8.4 8.4m0-8.4l-8.4 8.4M656.3 263.3l8.4 8.4m0-8.4l-8.4 8.4M656.3 305.3l8.4 8.4m0-8.4l-8.4 8.4M657.3 221.3l8.4 8.4m0-8.4l-8.4 8.4M657.3 263.3l8.4 8.4m0-8.4l-8.4 8.4M658.3 221.3l8.4 8.4m0-8.4l-8.4 8.4M658.3 263.3l8.4 8.4m0-8.4l-8.4 8.4M659.3 221.3l8.4 8.4m0-8.4l-8.4 8.4M659.3 242.3l8.4 8.4m0-8.4l-8.4 8.4M659.3 263.3l8.4 8.4m0-8.4l-8.4 8.4M660.3 221.3l8.4 8.4m0-8.4l-8.4 8.4M660.3 242.3l8.4 8.4m0-8.4l-8.4 8.4M660.3 263.3l8.4 8.4m0-8.4l-8.4 8.4M661.3 201.3l8.4 8.4m0-8.4l-8.4 8.4M661.3 242.3l8.4 8.4m0-8.4l-8.4 8.4M661.3 263.3l8.4 8.4m0-8.4l-8.4 8.4M662.3 242.3l8.4 8.4m0-8.4l-8.4 8.4M662.3 263.3l8.4 8.4m0-8.4l-8.4 8.4M663.3 180.3l8.4 8.4m0-8.4l-8.4 8.4M663.3 221.3l8.4 8.4m0-8.4l-8.4 8.4M663.3 242.3l8.4 8.4m0-8.4l-8.4 8.4M663.3 263.3l8.4 8.4m0-8.4l-8.4 8.4M664.3 242.3l8.4 8.4m0-8.4l-8.4 8.4M664.3 263.3l8.4 8.4m0-8.4l-8.4 8.4M664.3 284.3l8.4 8.4m0-8.4l-8.4 8.4M665.3 242.3l8.4 8.4m0-8.4l-8.4 8.4M665.3 263.3l8.4 8.4m0-8.4l-8.4 8.4M666.3 242.3l8.4 8.4m0-8.4l-8.4 8.4M666.3 263.3l8.4 8.4m0-8.4l-8.4 8.4M667.3 221.3l8.4 8.4m0-8.4l-8.4 8.4M667.3 242.3l8.4 8.4m0-8.4l-8.4 8.4M668.3 201.3l8.4 8.4m0-8.4l-8.4 8.4M668.3 263.3l8.4 8.4m0-8.4l-8.4 8.4M669.3 221.3l8.4 8.4m0-8.4l-8.4 8.4M669.3 242.3l8.4 8.4m0-8.4l-8.4 8.4M670.3 221.3l8.4 8.4m0-8.4l-8.4 8.4M670.3 242.3l8.4 8.4m0-8.4l-8.4 8.4M670.3 263.3l8.4 8.4m0-8.4l-8.4 8.4M671.3 242.3l8.4 8.4m0-8.4l-8.4 8.4M672.3 242.3l8.4 8.4m0-8.4l-8.4 8.4M673.3 242.3l8.4 8.4m0-8.4l-8.4 8.4M674.3 242.3l8.4 8.4m0-8.4l-8.4 8.4M675.3 242.3l8.4 8.4m0-8.4l-8.4 8.4M675.3 263.3l8.4 8.4m0-8.4l-8.4 8.4M675.3 284.3l8.4 8.4m0-8.4l-8.4 8.4M676.3 221.3l8.4 8.4m0-8.4l-8.4 8.4M676.3 242.3l8.4 8.4m0-8.4l-8.4 8.4M676.3 263.3l8.4 8.4m0-8.4l-8.4 8.4M677.3 242.3l8.4 8.4m0-8.4l-8.4 8.4M678.3 221.3l8.4 8.4m0-8.4l-8.4 8.4M678.3 263.3l8.4 8.4m0-8.4l-8.4 8.4M679.3 221.3l8.4 8.4m0-8.4l-8.4 8.4M679.3 263.3l8.4 8.4m0-8.4l-8.4 8.4M680.3 221.3l8.4 8.4m0-8.4l-8.4 8.4M680.3 263.3l8.4 8.4m0-8.4l-8.4 8.4M681.3 221.3l8.4 8.4m0-8.4l-8.4 8.4M681.3 263.3l8.4 8.4m0-8.4l-8.4 8.4M682.3 221.3l8.4 8.4m0-8.4l-8.4 8.4M682.3 284.3l8.4 8.4m0-8.4l-8.4 8.4M683.3 221.3l8.4 8.4m0-8.4l-8.4 8.4M683.3 263.3l8.4 8.4m0-8.4l-8.4 8.4M684.3 221.3l8.4 8.4m0-8.4l-8.4 8.4M684.3 263.3l8.4 8.4m0-8.4l-8.4 8.4M685.3 263.3l8.4 8.4m0-8.4l-8.4 8.4M686.3 201.3l8.4 8.4m0-8.4l-8.4 8.4M686.3 242.3l8.4 8.4m0-8.4l-8.4 8.4M686.3 263.3l8.4 8.4m0-8.4l-8.4 8.4M687.3 201.3l8.4 8.4m0-8.4l-8.4 8.4M687.3 242.3l8.4 8.4m0-8.4l-8.4 8.4M687.3 263.3l8.4 8.4m0-8.4l-8.4 8.4M688.3 201.3l8.4 8.4m0-8.4l-8.4 8.4M688.3 263.3l8.4 8.4m0-8.4l-8.4 8.4M688.3 284.3l8.4 8.4m0-8.4l-8.4 8.4M689.3 201.3l8.4 8.4m0-8.4l-8.4 8.4M689.3 242.3l8.4 8.4m0-8.4l-8.4 8.4M689.3 263.3l8.4 8.4m0-8.4l-8.4 8.4M690.3 242.3l8.4 8.4m0-8.4l-8.4 8.4M690.3 263.3l8.4 8.4m0-8.4l-8.4 8.4M690.3 284.3l8.4 8.4m0-8.4l-8.4 8.4M691.3 221.3l8.4 8.4m0-8.4l-8.4 8.4M691.3 242.3l8.4 8.4m0-8.4l-8.4 8.4M691.3 263.3l8.4 8.4m0-8.4l-8.4 8.4M691.3 284.3l8.4 8.4m0-8.4l-8.4 8.4M692.3 221.3l8.4 8.4m0-8.4l-8.4 8.4M692.3 242.3l8.4 8.4m0-8.4l-8.4 8.4M693.3 221.3l8.4 8.4m0-8.4l-8.4 8.4M693.3 242.3l8.4 8.4m0-8.4l-8.4 8.4M693.3 284.3l8.4 8.4m0-8.4l-8.4 8.4M694.3 221.3l8.4 8.4m0-8.4l-8.4 8.4M694.3 242.3l8.4 8.4m0-8.4l-8.4 8.4M694.3 263.3l8.4 8.4m0-8.4l-8.4 8.4M695.3 221.3l8.4 8.4m0-8.4l-8.4 8.4M695.3 242.3l8.4 8.4m0-8.4l-8.4 8.4M695.3 263.3l8.4 8.4m0-8.4l-8.4 8.4M696.3 221.3l8.4 8.4m0-8.4l-8.4 8.4M696.3 242.3l8.4 8.4m0-8.4l-8.4 8.4M696.3 263.3l8.4 8.4m0-8.4l-8.4 8.4M697.3 242.3l8.4 8.4m0-8.4l-8.4 8.4M697.3 263.3l8.4 8.4m0-8.4l-8.4 8.4M698.3 221.3l8.4 8.4m0-8.4l-8.4 8.4M698.3 242.3l8.4 8.4m0-8.4l-8.4 8.4M698.3 263.3l8.4 8.4m0-8.4l-8.4 8.4M699.3 242.3l8.4 8.4m0-8.4l-8.4 8.4M699.3 263.3l8.4 8.4m0-8.4l-8.4 8.4M700.3 221.3l8.4 8.4m0-8.4l-8.4 8.4M700.3 263.3l8.4 8.4m0-8.4l-8.4 8.4M701.3 221.3l8.4 8.4m0-8.4l-8.4 8.4M701.3 263.3l8.4 8.4m0-8.4l-8.4 8.4M702.3 263.3l8.4 8.4m0-8.4l-8.4 8.4M703.3 221.3l8.4 8.4m0-8.4l-8.4 8.4M703.3 242.3l8.4 8.4m0-8.4l-8.4 8.4M703.3 284.3l8.4 8.4m0-8.4l-8.4 8.4M704.3 221.3l8.4 8.4m0-8.4l-8.4 8.4M704.3 263.3l8.4 8.4m0-8.4l-8.4 8.4M705.3 242.3l8.4 8.4m0-8.4l-8.4 8.4M705.3 263.3l8.4 8.4m0-8.4l-8.4 8.4M706.3 221.3l8.4 8.4m0-8.4l-8.4 8.4M706.3 242.3l8.4 8.4m0-8.4l-8.4 8.4M706.3 263.3l8.4 8.4m0-8.4l-8.4 8.4M707.3 242.3l8.4 8.4m0-8.4l-8.4 8.4M707.3 263.3l8.4 8.4m0-8.4l-8.4 8.4M708.3 221.3l8.4 8.4m0-8.4l-8.4 8.4M708.3 242.3l8.4 8.4m0-8.4l-8.4 8.4M708.3 284.3l8.4 8.4m0-8.4l-8.4 8.4M709.3 242.3l8.4 8.4m0-8.4l-8.4 8.4M710.3 242.3l8.4 8.4m0-8.4l-8.4 8.4M711.3 242.3l8.4 8.4m0-8.4l-8.4 8.4M711.3 263.3l8.4 8.4m0-8.4l-8.4 8.4M712.3 242.3l8.4 8.4m0-8.4l-8.4 8.4M712.3 284.3l8.4 8.4m0-8.4l-8.4 8.4M713.3 242.3l8.4 8.4m0-8.4l-8.4 8.4M713.3 263.3l8.4 8.4m0-8.4l-8.4 8.4M714.3 221.3l8.4 8.4m0-8.4l-8.4 8.4M714.3 242.3l8.4 8.4m0-8.4l-8.4 8.4M715.3 221.3l8.4 8.4m0-8.4l-8.4 8.4M715.3 242.3l8.4 8.4m0-8.4l-8.4 8.4M715.3 263.3l8.4 8.4m0-8.4l-8.4 8.4M716.3 242.3l8.4 8.4m0-8.4l-8.4 8.4M716.3 263.3l8.4 8.4m0-8.4l-8.4 8.4M717.3 201.3l8.4 8.4m0-8.4l-8.4 8.4M717.3 242.3l8.4 8.4m0-8.4l-8.4 8.4M717.3 263.3l8.4 8.4m0-8.4l-8.4 8.4M718.3 221.3l8.4 8.4m0-8.4l-8.4 8.4M719.3 221.3l8.4 8.4m0-8.4l-8.4 8.4M719.3 242.3l8.4 8.4m0-8.4l-8.4 8.4M719.3 263.3l8.4 8.4m0-8.4l-8.4 8.4M720.3 242.3l8.4 8.4m0-8.4l-8.4 8.4M721.3 221.3l8.4 8.4m0-8.4l-8.4 8.4M721.3 242.3l8.4 8.4m0-8.4l-8.4 8.4M721.3 263.3l8.4 8.4m0-8.4l-8.4 8.4M722.3 242.3l8.4 8.4m0-8.4l-8.4 8.4M722.3 263.3l8.4 8.4m0-8.4l-8.4 8.4M723.3 242.3l8.4 8.4m0-8.4l-8.4 8.4M723.3 263.3l8.4 8.4m0-8.4l-8.4 8.4M724.3 221.3l8.4 8.4m0-8.4l-8.4 8.4M724.3 263.3l8.4 8.4m0-8.4l-8.4 8.4M725.3 221.3l8.4 8.4m0-8.4l-8.4 8.4M725.3 242.3l8.4 8.4m0-8.4l-8.4 8.4M725.3 263.3l8.4 8.4m0-8.4l-8.4 8.4M726.3 221.3l8.4 8.4m0-8.4l-8.4 8.4M726.3 242.3l8.4 8.4m0-8.4l-8.4 8.4M726.3 263.3l8.4 8.4m0-8.4l-8.4 8.4M727.3 221.3l8.4 8.4m0-8.4l-8.4 8.4M727.3 242.3l8.4 8.4m0-8.4l-8.4 8.4M727.3 263.3l8.4 8.4m0-8.4l-8.4 8.4M728.3 221.3l8.4 8.4m0-8.4l-8.4 8.4M728.3 242.3l8.4 8.4m0-8.4l-8.4 8.4M728.3 263.3l8.4 8.4m0-8.4l-8.4 8.4M729.3 221.3l8.4 8.4m0-8.4l-8.4 8.4M729.3 242.3l8.4 8.4m0-8.4l-8.4 8.4M729.3 263.3l8.4 8.4m0-8.4l-8.4 8.4M729.3 284.3l8.4 8.4m0-8.4l-8.4 8.4M730.3 221.3l8.4 8.4m0-8.4l-8.4 8.4M730.3 242.3l8.4 8.4m0-8.4l-8.4 8.4M730.3 284.3l8.4 8.4m0-8.4l-8.4 8.4M731.3 221.3l8.4 8.4m0-8.4l-8.4 8.4M731.3 263.3l8.4 8.4m0-8.4l-8.4 8.4M731.3 284.3l8.4 8.4m0-8.4l-8.4 8.4M732.3 221.3l8.4 8.4m0-8.4l-8.4 8.4M732.3 242.3l8.4 8.4m0-8.4l-8.4 8.4M732.3 263.3l8.4 8.4m0-8.4l-8.4 8.4M732.3 284.3l8.4 8.4m0-8.4l-8.4 8.4M733.3 221.3l8.4 8.4m0-8.4l-8.4 8.4M733.3 242.3l8.4 8.4m0-8.4l-8.4 8.4M733.3 263.3l8.4 8.4m0-8.4l-8.4 8.4M733.3 284.3l8.4 8.4m0-8.4l-8.4 8.4M734.3 242.3l8.4 8.4m0-8.4l-8.4 8.4M734.3 263.3l8.4 8.4m0-8.4l-8.4 8.4M734.3 284.3l8.4 8.4m0-8.4l-8.4 8.4M735.3 221.3l8.4 8.4m0-8.4l-8.4 8.4M735.3 263.3l8.4 8.4m0-8.4l-8.4 8.4M735.3 284.3l8.4 8.4m0-8.4l-8.4 8.4M736.3 242.3l8.4 8.4m0-8.4l-8.4 8.4M736.3 284.3l8.4 8.4m0-8.4l-8.4 8.4M737.3 242.3l8.4 8.4m0-8.4l-8.4 8.4M737.3 263.3l8.4 8.4m0-8.4l-8.4 8.4M738.3 242.3l8.4 8.4m0-8.4l-8.4 8.4M739.3 242.3l8.4 8.4m0-8.4l-8.4 8.4M740.3 242.3l8.4 8.4m0-8.4l-8.4 8.4M740.3 263.3l8.4 8.4m0-8.4l-8.4 8.4M741.3 242.3l8.4 8.4m0-8.4l-8.4 8.4M741.3 263.3l8.4 8.4m0-8.4l-8.4 8.4M742.3 242.3l8.4 8.4m0-8.4l-8.4 8.4M742.3 263.3l8.4 8.4m0-8.4l-8.4 8.4M743.3 221.3l8.4 8.4m0-8.4l-8.4 8.4M743.3 242.3l8.4 8.4m0-8.4l-8.4 8.4M744.3 221.3l8.4 8.4m0-8.4l-8.4 8.4M744.3 242.3l8.4 8.4m0-8.4l-8.4 8.4M745.3 221.3l8.4 8.4m0-8.4l-8.4 8.4M745.3 242.3l8.4 8.4m0-8.4l-8.4 8.4M746.3 221.3l8.4 8.4m0-8.4l-8.4 8.4M746.3 242.3l8.4 8.4m0-8.4l-8.4 8.4M746.3 284.3l8.4 8.4m0-8.4l-8.4 8.4M747.3 221.3l8.4 8.4m0-8.4l-8.4 8.4M747.3 242.3l8.4 8.4m0-8.4l-8.4 8.4M748.3 180.3l8.4 8.4m0-8.4l-8.4 8.4M748.3 221.3l8.4 8.4m0-8.4l-8.4 8.4M748.3 284.3l8.4 8.4m0-8.4l-8.4 8.4M749.3 242.3l8.4 8.4m0-8.4l-8.4 8.4M749.3 263.3l8.4 8.4m0-8.4l-8.4 8.4M749.3 305.3l8.4 8.4m0-8.4l-8.4 8.4M750.3 180.3l8.4 8.4m0-8.4l-8.4 8.4M750.3 221.3l8.4 8.4m0-8.4l-8.4 8.4M751.3 221.3l8.4 8.4m0-8.4l-8.4 8.4M751.3 242.3l8.4 8.4m0-8.4l-8.4 8.4M751.3 284.3l8.4 8.4m0-8.4l-8.4 8.4M752.3 221.3l8.4 8.4m0-8.4l-8.4 8.4M752.3 263.3l8.4 8.4m0-8.4l-8.4 8.4M752.3 284.3l8.4 8.4m0-8.4l-8.4 8.4M753.3 242.3l8.4 8.4m0-8.4l-8.4 8.4M753.3 263.3l8.4 8.4m0-8.4l-8.4 8.4M753.3 284.3l8.4 8.4m0-8.4l-8.4 8.4M754.3 242.3l8.4 8.4m0-8.4l-8.4 8.4M754.3 263.3l8.4 8.4m0-8.4l-8.4 8.4M755.3 201.3l8.4 8.4m0-8.4l-8.4 8.4M755.3 221.3l8.4 8.4m0-8.4l-8.4 8.4M755.3 242.3l8.4 8.4m0-8.4l-8.4 8.4M756.3 242.3l8.4 8.4m0-8.4l-8.4 8.4M756.3 263.3l8.4 8.4m0-8.4l-8.4 8.4M756.3 284.3l8.4 8.4m0-8.4l-8.4 8.4M757.3 221.3l8.4 8.4m0-8.4l-8.4 8.4M757.3 263.3l8.4 8.4m0-8.4l-8.4 8.4M757.3 284.3l8.4 8.4m0-8.4l-8.4 8.4M758.3 221.3l8.4 8.4m0-8.4l-8.4 8.4M758.3 263.3l8.4 8.4m0-8.4l-8.4 8.4M759.3 201.3l8.4 8.4m0-8.4l-8.4 8.4M759.3 221.3l8.4 8.4m0-8.4l-8.4 8.4M759.3 263.3l8.4 8.4m0-8.4l-8.4 8.4M760.3 221.3l8.4 8.4m0-8.4l-8.4 8.4M760.3 263.3l8.4 8.4m0-8.4l-8.4 8.4M761.3 201.3l8.4 8.4m0-8.4l-8.4 8.4M761.3 242.3l8.4 8.4m0-8.4l-8.4 8.4M761.3 263.3l8.4 8.4m0-8.4l-8.4 8.4M762.3 221.3l8.4 8.4m0-8.4l-8.4 8.4M763.3 221.3l8.4 8.4m0-8.4l-8.4 8.4M763.3 242.3l8.4 8.4m0-8.4l-8.4 8.4M764.3 221.3l8.4 8.4m0-8.4l-8.4 8.4M764.3 263.3l8.4 8.4m0-8.4l-8.4 8.4M765.3 242.3l8.4 8.4m0-8.4l-8.4 8.4M765.3 263.3l8.4 8.4m0-8.4l-8.4 8.4M765.3 305.3l8.4 8.4m0-8.4l-8.4 8.4M766.3 221.3l8.4 8.4m0-8.4l-8.4 8.4M766.3 242.3l8.4 8.4m0-8.4l-8.4 8.4M766.3 263.3l8.4 8.4m0-8.4l-8.4 8.4M766.3 284.3l8.4 8.4m0-8.4l-8.4 8.4M767.3 242.3l8.4 8.4m0-8.4l-8.4 8.4M767.3 263.3l8.4 8.4m0-8.4l-8.4 8.4M768.3 221.3l8.4 8.4m0-8.4l-8.4 8.4M768.3 263.3l8.4 8.4m0-8.4l-8.4 8.4M769.3 242.3l8.4 8.4m0-8.4l-8.4 8.4M769.3 263.3l8.4 8.4m0-8.4l-8.4 8.4M769.3 305.3l8.4 8.4m0-8.4l-8.4 8.4M770.3 221.3l8.4 8.4m0-8.4l-8.4 8.4M770.3 242.3l8.4 8.4m0-8.4l-8.4 8.4M770.3 284.3l8.4 8.4m0-8.4l-8.4 8.4M771.3 242.3l8.4 8.4m0-8.4l-8.4 8.4M772.3 201.3l8.4 8.4m0-8.4l-8.4 8.4M772.3 221.3l8.4 8.4m0-8.4l-8.4 8.4M772.3 242.3l8.4 8.4m0-8.4l-8.4 8.4M773.3 242.3l8.4 8.4m0-8.4l-8.4 8.4M773.3 263.3l8.4 8.4m0-8.4l-8.4 8.4M774.3 242.3l8.4 8.4m0-8.4l-8.4 8.4M774.3 263.3l8.4 8.4m0-8.4l-8.4 8.4M774.3 325.3l8.4 8.4m0-8.4l-8.4 8.4M775.3 201.3l8.4 8.4m0-8.4l-8.4 8.4M775.3 263.3l8.4 8.4m0-8.4l-8.4 8.4M775.3 284.3l8.4 8.4m0-8.4l-8.4 8.4M776.3 242.3l8.4 8.4m0-8.4l-8.4 8.4M776.3 263.3l8.4 8.4m0-8.4l-8.4 8.4M777.3 201.3l8.4 8.4m0-8.4l-8.4 8.4M777.3 221.3l8.4 8.4m0-8.4l-8.4 8.4M777.3 263.3l8.4 8.4m0-8.4l-8.4 8.4M778.3 221.3l8.4 8.4m0-8.4l-8.4 8.4M778.3 242.3l8.4 8.4m0-8.4l-8.4 8.4M779.3 221.3l8.4 8.4m0-8.4l-8.4 8.4M779.3 242.3l8.4 8.4m0-8.4l-8.4 8.4M779.3 263.3l8.4 8.4m0-8.4l-8.4 8.4M780.3 221.3l8.4 8.4m0-8.4l-8.4 8.4M780.3 263.3l8.4 8.4m0-8.4l-8.4 8.4M781.3 221.3l8.4 8.4m0-8.4l-8.4 8.4M781.3 263.3l8.4 8.4m0-8.4l-8.4 8.4M782.3 221.3l8.4 8.4m0-8.4l-8.4 8.4M782.3 242.3l8.4 8.4m0-8.4l-8.4 8.4M783.3 221.3l8.4 8.4m0-8.4l-8.4 8.4M783.3 242.3l8.4 8.4m0-8.4l-8.4 8.4M783.3 263.3l8.4 8.4m0-8.4l-8.4 8.4M784.3 242.3l8.4 8.4m0-8.4l-8.4 8.4M784.3 263.3l8.4 8.4m0-8.4l-8.4 8.4M784.3 284.3l8.4 8.4m0-8.4l-8.4 8.4M785.3 201.3l8.4 8.4m0-8.4l-8.4 8.4M785.3 242.3l8.4 8.4m0-8.4l-8.4 8.4M785.3 263.3l8.4 8.4m0-8.4l-8.4 8.4M786.3 242.3l8.4 8.4m0-8.4l-8.4 8.4M786.3 263.3l8.4 8.4m0-8.4l-8.4 8.4M786.3 284.3l8.4 8.4m0-8.4l-8.4 8.4M787.3 242.3l8.4 8.4m0-8.4l-8.4 8.4M787.3 263.3l8.4 8.4m0-8.4l-8.4 8.4M787.3 284.3l8.4 8.4m0-8.4l-8.4 8.4M788.3 242.3l8.4 8.4m0-8.4l-8.4 8.4M788.3 263.3l8.4 8.4m0-8.4l-8.4 8.4M788.3 284.3l8.4 8.4m0-8.4l-8.4 8.4M789.3 242.3l8.4 8.4m0-8.4l-8.4 8.4M789.3 263.3l8.4 8.4m0-8.4l-8.4 8.4M789.3 284.3l8.4 8.4m0-8.4l-8.4 8.4M790.3 221.3l8.4 8.4m0-8.4l-8.4 8.4M790.3 242.3l8.4 8.4m0-8.4l-8.4 8.4M790.3 263.3l8.4 8.4m0-8.4l-8.4 8.4M791.3 263.3l8.4 8.4m0-8.4l-8.4 8.4M791.3 284.3l8.4 8.4m0-8.4l-8.4 8.4M792.3 221.3l8.4 8.4m0-8.4l-8.4 8.4M792.3 242.3l8.4 8.4m0-8.4l-8.4 8.4M792.3 263.3l8.4 8.4m0-8.4l-8.4 8.4M793.3 242.3l8.4 8.4m0-8.4l-8.4 8.4M793.3 263.3l8.4 8.4m0-8.4l-8.4 8.4M793.3 284.3l8.4 8.4m0-8.4l-8.4 8.4M794.3 242.3l8.4 8.4m0-8.4l-8.4 8.4M794.3 263.3l8.4 8.4m0-8.4l-8.4 8.4M794.3 284.3l8.4 8.4m0-8.4l-8.4 8.4M795.3 242.3l8.4 8.4m0-8.4l-8.4 8.4M795.3 263.3l8.4 8.4m0-8.4l-8.4 8.4M795.3 284.3l8.4 8.4m0-8.4l-8.4 8.4M796.3 221.3l8.4 8.4m0-8.4l-8.4 8.4M796.3 242.3l8.4 8.4m0-8.4l-8.4 8.4M797.3 242.3l8.4 8.4m0-8.4l-8.4 8.4M797.3 263.3l8.4 8.4m0-8.4l-8.4 8.4M797.3 284.3l8.4 8.4m0-8.4l-8.4 8.4M798.3 242.3l8.4 8.4m0-8.4l-8.4 8.4M798.3 263.3l8.4 8.4m0-8.4l-8.4 8.4M798.3 284.3l8.4 8.4m0-8.4l-8.4 8.4M799.3 242.3l8.4 8.4m0-8.4l-8.4 8.4M799.3 263.3l8.4 8.4m0-8.4l-8.4 8.4M800.3 180.3l8.4 8.4m0-8.4l-8.4 8.4M800.3 221.3l8.4 8.4m0-8.4l-8.4 8.4M800.3 242.3l8.4 8.4m0-8.4l-8.4 8.4M800.3 263.3l8.4 8.4m0-8.4l-8.4 8.4M801.3 221.3l8.4 8.4m0-8.4l-8.4 8.4M801.3 242.3l8.4 8.4m0-8.4l-8.4 8.4M801.3 263.3l8.4 8.4m0-8.4l-8.4 8.4M802.3 242.3l8.4 8.4m0-8.4l-8.4 8.4M803.3 242.3l8.4 8.4m0-8.4l-8.4 8.4M804.3 221.3l8.4 8.4m0-8.4l-8.4 8.4M804.3 242.3l8.4 8.4m0-8.4l-8.4 8.4M804.3 263.3l8.4 8.4m0-8.4l-8.4 8.4M805.3 221.3l8.4 8.4m0-8.4l-8.4 8.4M805.3 242.3l8.4 8.4m0-8.4l-8.4 8.4M805.3 263.3l8.4 8.4m0-8.4l-8.4 8.4M805.3 284.3l8.4 8.4m0-8.4l-8.4 8.4M806.3 221.3l8.4 8.4m0-8.4l-8.4 8.4M806.3 242.3l8.4 8.4m0-8.4l-8.4 8.4M806.3 263.3l8.4 8.4m0-8.4l-8.4 8.4M807.3 242.3l8.4 8.4m0-8.4l-8.4 8.4M807.3 263.3l8.4 8.4m0-8.4l-8.4 8.4M808.3 242.3l8.4 8.4m0-8.4l-8.4 8.4M808.3 263.3l8.4 8.4m0-8.4l-8.4 8.4M809.3 221.3l8.4 8.4m0-8.4l-8.4 8.4M809.3 242.3l8.4 8.4m0-8.4l-8.4 8.4M809.3 263.3l8.4 8.4m0-8.4l-8.4 8.4M810.3 221.3l8.4 8.4m0-8.4l-8.4 8.4M810.3 284.3l8.4 8.4m0-8.4l-8.4 8.4" fill="none" stroke="#00f" stroke-width="0.72"/>
<path d="M125 228.3H900" stroke="#ffa500" stroke-width="6.8" fill="none"/>
<path d="M125 194.0H900M125 262.0H900" stroke="#ffa500" stroke-width="4.1" stroke-dasharray="8.33 8.34" fill="none"/>
</g>
<g clip-path="url(#c2)" fill="#f00"><rect x="138.00" y="429.5" width="2.00" height="290.9"/><rect x="146.50" y="429.5" width="2.00" height="290.9"/><rect x="173.75" y="429.5" width="2.00" height="290.9"/><rect x="182.50" y="429.5" width="2.00" height="290.9"/><rect x="221.00" y="429.5" width="2.00" height="290.9"/><rect x="234.00" y="429.5" width="2.00" height="290.9"/><rect x="244.40" y="429.5" width="2.00" height="290.9"/><rect x="249.00" y="429.5" width="2.00" height="290.9"/><rect x="259.00" y="429.5" width="2.00" height="290.9"/><rect x="264.00" y="429.5" width="2.00" height="290.9"/><rect x="282.10" y="429.5" width="2.00" height="290.9"/><rect x="285.00" y="429.5" width="2.00" height="290.9"/><rect x="307.10" y="429.5" width="2.00" height="290.9"/><rect x="310.00" y="429.5" width="2.00" height="290.9"/><rect x="314.90" y="429.5" width="2.00" height="290.9"/><rect x="332.00" y="429.5" width="2.00" height="290.9"/><rect x="389.00" y="429.5" width="2.00" height="290.9"/><rect x="403.00" y="429.5" width="2.00" height="290.9"/><rect x="435.00" y="429.5" width="2.40" height="290.9"/><rect x="437.95" y="429.5" width="1.10" height="290.9"/><rect x="442.80" y="429.5" width="2.20" height="290.9"/><rect x="461.00" y="429.5" width="4.20" height="290.9"/><rect x="484.00" y="429.5" width="2.00" height="290.9"/><rect x="534.00" y="429.5" width="2.00" height="290.9"/><rect x="568.90" y="429.5" width="1.00" height="290.9"/><rect x="574.00" y="429.5" width="2.00" height="290.9"/><rect x="610.05" y="429.5" width="3.70" height="290.9"/><rect x="664.00" y="429.5" width="2.00" height="290.9"/><rect x="733.00" y="429.5" width="2.00" height="290.9"/><rect x="750.25" y="429.5" width="2.00" height="290.9"/><rect x="755.25" y="429.5" width="2.00" height="290.9"/><rect x="785.10" y="429.5" width="2.00" height="290.9"/><rect x="801.15" y="429.5" width="2.10" height="290.9"/>
<rect x="125.5" y="429" width="1.7" height="291"/>
<rect x="125.5" y="718.9" width="688.7" height="1.0"/></g>
<path d="M236.50 371.2v-5.6M236.50 80.5v5.6M236.50 720.3v-5.6M236.50 429.5v5.6M346.50 371.2v-5.6M346.50 80.5v5.6M346.50 720.3v-5.6M346.50 429.5v5.6M457.50 371.2v-5.6M457.50 80.5v5.6M457.50 720.3v-5.6M457.50 429.5v5.6M568.50 371.2v-5.6M568.50 80.5v5.6M568.50 720.3v-5.6M568.50 429.5v5.6M679.50 371.2v-5.6M679.50 80.5v5.6M679.50 720.3v-5.6M679.50 429.5v5.6M789.50 371.2v-5.6M789.50 80.5v5.6M789.50 720.3v-5.6M789.50 429.5v5.6M125.5 122.50h5.6M900.5 122.50h-5.6M125.5 163.50h5.6M900.5 163.50h-5.6M125.5 205.50h5.6M900.5 205.50h-5.6M125.5 246.50h5.6M900.5 246.50h-5.6M125.5 288.50h5.6M900.5 288.50h-5.6M125.5 329.50h5.6M900.5 329.50h-5.6" stroke="#000" stroke-width="0.7" fill="none"/>
<path d="M125.5 80.5H900.5V371.3H125.5ZM125.5 429.5H900.5V720.3H125.5Z" stroke="#000" stroke-width="1.2" fill="none" stroke-linejoin="miter"/>
<text x="120.2" y="84.1" text-anchor="end" textLength="66.9">10.0010</text>
<text x="120.2" y="126.1" text-anchor="end" textLength="66.9">10.0005</text>
<text x="120.2" y="168.1" text-anchor="end" textLength="66.9">10.0000</text>
<text x="120.2" y="209.1" text-anchor="end" textLength="56.5">9.9995</text>
<text x="120.2" y="251.1" text-anchor="end" textLength="56.5">9.9990</text>
<text x="120.2" y="292.1" text-anchor="end" textLength="56.5">9.9985</text>
<text x="120.2" y="334.1" text-anchor="end" textLength="56.5">9.9980</text>
<text x="120.2" y="375.1" text-anchor="end" textLength="56.5">9.9975</text>
<text x="125.3" y="738.0" text-anchor="middle">0</text>
<text x="236.0" y="738.0" text-anchor="middle">5</text>
<text x="346.2" y="738.0" text-anchor="middle" textLength="20.4">10</text>
<text x="456.9" y="738.0" text-anchor="middle" textLength="20.4">15</text>
<text x="567.7" y="738.0" text-anchor="middle" textLength="20.4">20</text>
<text x="678.4" y="738.0" text-anchor="middle" textLength="20.4">25</text>
<text x="789.1" y="738.0" text-anchor="middle" textLength="20.4">30</text>
<text x="899.8" y="738.0" text-anchor="middle" textLength="20.4">35</text>
<text x="512.6" y="759.5" text-anchor="middle" textLength="85.2">time [min]</text>
<text transform="translate(42.8 225.3) rotate(-90)" text-anchor="middle" textLength="147.4">gapEncoder [mm]</text>
<text transform="translate(114.7 575.0) rotate(-90)" text-anchor="middle" textLength="173.0">motorState [ON/OFF]</text>
</svg></body></html>
